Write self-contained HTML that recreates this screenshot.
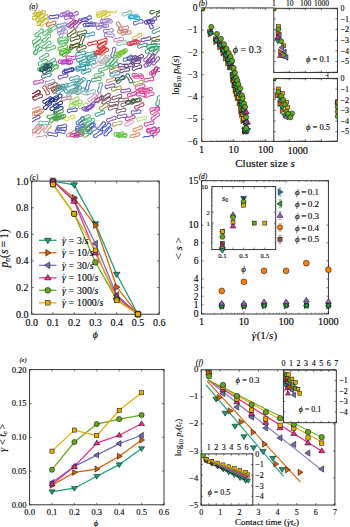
<!DOCTYPE html><html><head><meta charset="utf-8"><style>html,body{margin:0;padding:0;background:#fff;overflow:hidden}svg{display:block}text{font-family:"Liberation Serif",serif;fill:#000;stroke:#000;stroke-width:0.12px}</style></head><body>
<svg width="350" height="527" viewBox="0 0 350 527">
<rect width="350" height="527" fill="#fff"/>
<clipPath id="ca"><rect x="32" y="10" width="128" height="128"/></clipPath>
<g clip-path="url(#ca)">
<path d="M40.53 18.05A1.75 1.75 0 1 0 42.11 20.64Q43.83 18.81 46.25 18.13A1.75 1.75 0 1 0 44.68 15.53Q42.95 17.36 40.53 18.05Z" fill="none" stroke="#c4b82c" stroke-width="1.05"/>
<path d="M33.9 16.29A1.75 1.75 0 1 0 35.64 18.77Q37.24 16.84 39.61 15.99A1.75 1.75 0 1 0 37.87 13.51Q36.26 15.45 33.9 16.29Z" fill="none" stroke="#c4b82c" stroke-width="1.05"/>
<path d="M41.11 22.79A1.75 1.75 0 1 0 42.9 25.24Q44.47 23.27 46.82 22.38A1.75 1.75 0 1 0 45.03 19.93Q43.47 21.9 41.11 22.79Z" fill="none" stroke="#c4b82c" stroke-width="1.05"/>
<path d="M37.38 18.15A1.75 1.75 0 1 0 39.38 20.42Q40.76 18.33 43.02 17.23A1.75 1.75 0 1 0 41.02 14.95Q39.64 17.05 37.38 18.15Z" fill="none" stroke="#c4b82c" stroke-width="1.05"/>
<path d="M35.72 13.4A1.75 1.75 0 1 0 37.53 15.82Q39.08 13.84 41.41 12.91A1.75 1.75 0 1 0 39.6 10.49Q38.06 12.48 35.72 13.4Z" fill="none" stroke="#c4b82c" stroke-width="1.05"/>
<path d="M38.08 22.46A1.75 1.75 0 1 0 40.44 24.36Q41.44 22.06 43.48 20.58A1.75 1.75 0 1 0 41.12 18.68Q40.12 20.99 38.08 22.46Z" fill="none" stroke="#c4b82c" stroke-width="1.05"/>
<path d="M37.89 13.14A1.75 1.75 0 1 0 39.32 15.82Q41.15 14.09 43.6 13.53A1.75 1.75 0 1 0 42.17 10.86Q40.35 12.59 37.89 13.14Z" fill="none" stroke="#c4b82c" stroke-width="1.05"/>
<path d="M51.34 15.63A1.75 1.75 0 1 0 51.71 18.64Q54.04 17.67 56.53 18.04A1.75 1.75 0 1 0 56.15 15.03Q53.83 15.99 51.34 15.63Z" fill="none" stroke="#3a3aa8" stroke-width="1.05"/>
<path d="M70.85 13.85A1.75 1.75 0 1 0 71.95 16.68Q73.97 15.18 76.47 14.92A1.75 1.75 0 1 0 75.37 12.1Q73.36 13.59 70.85 13.85Z" fill="none" stroke="#9a58c8" stroke-width="1.05"/>
<path d="M61.92 13.18A1.75 1.75 0 1 0 62.98 16.02Q65.02 14.55 67.52 14.33A1.75 1.75 0 1 0 66.47 11.49Q64.43 12.96 61.92 13.18Z" fill="none" stroke="#9a58c8" stroke-width="1.05"/>
<path d="M66.77 16.18A1.75 1.75 0 1 0 67.14 19.19Q69.47 18.23 71.96 18.58A1.75 1.75 0 1 0 71.58 15.58Q69.25 16.54 66.77 16.18Z" fill="none" stroke="#9a58c8" stroke-width="1.05"/>
<path d="M65.15 13.06A1.75 1.75 0 1 0 65.26 16.09Q67.66 15.34 70.1 15.92A1.75 1.75 0 1 0 70 12.89Q67.6 13.64 65.15 13.06Z" fill="none" stroke="#9a58c8" stroke-width="1.05"/>
<path d="M48.32 22.98A1.75 1.75 0 1 0 49.21 25.88Q51.33 24.54 53.85 24.47A1.75 1.75 0 1 0 52.96 21.57Q50.84 22.91 48.32 22.98Z" fill="none" stroke="#e0502c" stroke-width="1.05"/>
<path d="M80.68 19.01A1.75 1.75 0 1 0 81.04 22.01Q83.37 21.06 85.86 21.43A1.75 1.75 0 1 0 85.49 18.42Q83.16 19.38 80.68 19.01Z" fill="none" stroke="#5a50c0" stroke-width="1.05"/>
<path d="M88.24 23.44A1.75 1.75 0 1 0 88.46 26.46Q90.83 25.63 93.3 26.11A1.75 1.75 0 1 0 93.08 23.09Q90.71 23.93 88.24 23.44Z" fill="none" stroke="#5a50c0" stroke-width="1.05"/>
<path d="M85.38 23.36A1.75 1.75 0 1 0 86.03 26.32Q88.25 25.15 90.76 25.28A1.75 1.75 0 1 0 90.11 22.32Q87.89 23.49 85.38 23.36Z" fill="none" stroke="#5a50c0" stroke-width="1.05"/>
<path d="M83.79 17.98A1.75 1.75 0 1 0 84.82 20.83Q86.87 19.38 89.38 19.18A1.75 1.75 0 1 0 88.35 16.33Q86.3 17.78 83.79 17.98Z" fill="none" stroke="#5a50c0" stroke-width="1.05"/>
<path d="M70.19 24.67A1.75 1.75 0 1 0 72.1 27.02Q73.56 24.98 75.87 23.97A1.75 1.75 0 1 0 73.96 21.62Q72.49 23.66 70.19 24.67Z" fill="none" stroke="#a03a90" stroke-width="1.05"/>
<path d="M68.31 23.67A1.75 1.75 0 1 0 70.1 26.11Q71.66 24.14 74.01 23.24A1.75 1.75 0 1 0 72.22 20.8Q70.66 22.77 68.31 23.67Z" fill="none" stroke="#a03a90" stroke-width="1.05"/>
<path d="M74.66 24.85A1.75 1.75 0 1 0 76.87 26.93Q78.05 24.71 80.2 23.4A1.75 1.75 0 1 0 77.99 21.32Q76.81 23.54 74.66 24.85Z" fill="none" stroke="#a03a90" stroke-width="1.05"/>
<path d="M58.77 24.32A1.75 1.75 0 1 0 59.49 27.26Q61.69 26.03 64.2 26.1A1.75 1.75 0 1 0 63.48 23.16Q61.28 24.38 58.77 24.32Z" fill="none" stroke="#4a90d0" stroke-width="1.05"/>
<path d="M44.07 31.99A1.75 1.75 0 1 0 45.98 34.34Q47.45 32.3 49.75 31.29A1.75 1.75 0 1 0 47.84 28.93Q46.38 30.98 44.07 31.99Z" fill="none" stroke="#52b86e" stroke-width="1.05"/>
<path d="M40.07 61.94A1.75 1.75 0 1 0 41.32 64.71Q43.26 63.1 45.74 62.71A1.75 1.75 0 1 0 44.49 59.94Q42.56 61.55 40.07 61.94Z" fill="none" stroke="#52b86e" stroke-width="1.05"/>
<path d="M34.88 51.03A1.75 1.75 0 1 0 36.7 53.46Q38.24 51.48 40.58 50.56A1.75 1.75 0 1 0 38.77 48.13Q37.22 50.11 34.88 51.03Z" fill="none" stroke="#52b86e" stroke-width="1.05"/>
<path d="M47.98 47.65A1.75 1.75 0 1 0 48.97 50.51Q51.04 49.09 53.55 48.93A1.75 1.75 0 1 0 52.56 46.06Q50.49 47.48 47.98 47.65Z" fill="none" stroke="#52b86e" stroke-width="1.05"/>
<path d="M49.44 63.88A1.75 1.75 0 1 0 50.69 66.64Q52.62 65.03 55.11 64.63A1.75 1.75 0 1 0 53.85 61.87Q51.92 63.48 49.44 63.88Z" fill="none" stroke="#52b86e" stroke-width="1.05"/>
<path d="M33.54 40.3A1.75 1.75 0 1 0 35.41 42.69Q36.91 40.67 39.23 39.7A1.75 1.75 0 1 0 37.36 37.31Q35.86 39.33 33.54 40.3Z" fill="none" stroke="#52b86e" stroke-width="1.05"/>
<path d="M43.83 45.02A1.75 1.75 0 1 0 45.65 47.45Q47.19 45.46 49.53 44.54A1.75 1.75 0 1 0 47.71 42.12Q46.17 44.1 43.83 45.02Z" fill="none" stroke="#52b86e" stroke-width="1.05"/>
<path d="M43.84 38.83A1.75 1.75 0 1 0 45.98 40.97Q47.23 38.79 49.41 37.54A1.75 1.75 0 1 0 47.27 35.4Q46.03 37.58 43.84 38.83Z" fill="none" stroke="#52b86e" stroke-width="1.05"/>
<path d="M41.24 56.44A1.75 1.75 0 1 0 42.69 59.1Q44.5 57.36 46.94 56.78A1.75 1.75 0 1 0 45.5 54.12Q43.68 55.86 41.24 56.44Z" fill="none" stroke="#52b86e" stroke-width="1.05"/>
<path d="M34.96 43.8A1.75 1.75 0 1 0 36.83 46.18Q38.33 44.16 40.65 43.19A1.75 1.75 0 1 0 38.77 40.8Q37.28 42.83 34.96 43.8Z" fill="none" stroke="#52b86e" stroke-width="1.05"/>
<path d="M36.3 33.02A1.75 1.75 0 1 0 38.2 35.38Q39.67 33.34 41.98 32.33A1.75 1.75 0 1 0 40.07 29.97Q38.6 32.01 36.3 33.02Z" fill="none" stroke="#52b86e" stroke-width="1.05"/>
<path d="M50.91 68.4A1.75 1.75 0 1 0 52.43 71.02Q54.19 69.24 56.63 68.6A1.75 1.75 0 1 0 55.11 65.97Q53.35 67.76 50.91 68.4Z" fill="none" stroke="#52b86e" stroke-width="1.05"/>
<path d="M39.24 67.65A1.75 1.75 0 1 0 40.9 70.19Q42.57 68.31 44.96 67.55A1.75 1.75 0 1 0 43.31 65.01Q41.64 66.89 39.24 67.65Z" fill="none" stroke="#52b86e" stroke-width="1.05"/>
<path d="M48.25 61.83A1.75 1.75 0 1 0 49.98 64.32Q51.59 62.38 53.96 61.54A1.75 1.75 0 1 0 52.23 59.06Q50.62 60.99 48.25 61.83Z" fill="none" stroke="#52b86e" stroke-width="1.05"/>
<path d="M34.3 51.72A1.75 1.75 0 1 0 37.15 52.76Q37.35 50.25 38.81 48.2A1.75 1.75 0 1 0 35.96 47.17Q35.76 49.67 34.3 51.72Z" fill="none" stroke="#52b86e" stroke-width="1.05"/>
<path d="M51.14 67.74A1.75 1.75 0 1 0 52.61 70.39Q54.41 68.64 56.85 68.05A1.75 1.75 0 1 0 55.39 65.4Q53.59 67.15 51.14 67.74Z" fill="none" stroke="#52b86e" stroke-width="1.05"/>
<path d="M49.72 29.26A1.75 1.75 0 1 0 51.45 31.75Q53.06 29.82 55.43 28.98A1.75 1.75 0 1 0 53.7 26.49Q52.09 28.42 49.72 29.26Z" fill="none" stroke="#52b86e" stroke-width="1.05"/>
<path d="M45.2 66.42A1.75 1.75 0 1 0 46.17 69.29Q48.25 67.88 50.76 67.72A1.75 1.75 0 1 0 49.79 64.86Q47.71 66.27 45.2 66.42Z" fill="none" stroke="#52b86e" stroke-width="1.05"/>
<path d="M59.89 31.34A1.75 1.75 0 1 0 60.6 34.29Q62.8 33.07 65.31 33.15A1.75 1.75 0 1 0 64.61 30.21Q62.4 31.42 59.89 31.34Z" fill="none" stroke="#a592d2" stroke-width="1.05"/>
<path d="M60 34.21A1.75 1.75 0 1 0 62.84 35.24Q63.05 32.74 64.5 30.69A1.75 1.75 0 1 0 61.66 29.65Q61.45 32.16 60 34.21Z" fill="none" stroke="#a592d2" stroke-width="1.05"/>
<path d="M58.93 28.58A1.75 1.75 0 1 0 60.55 31.14Q62.25 29.28 64.65 28.55A1.75 1.75 0 1 0 63.03 25.99Q61.34 27.85 58.93 28.58Z" fill="none" stroke="#a592d2" stroke-width="1.05"/>
<path d="M71.32 45.92A1.75 1.75 0 1 0 72.67 48.63Q74.54 46.96 77.01 46.47A1.75 1.75 0 1 0 75.66 43.76Q73.79 45.44 71.32 45.92Z" fill="none" stroke="#4e5e22" stroke-width="1.05"/>
<path d="M79.69 41.96A1.75 1.75 0 1 0 82.54 42.99Q82.75 40.49 84.2 38.44A1.75 1.75 0 1 0 81.35 37.4Q81.15 39.91 79.69 41.96Z" fill="none" stroke="#4e5e22" stroke-width="1.05"/>
<path d="M68.85 33.46A1.75 1.75 0 1 0 70.66 35.89Q72.21 33.92 74.56 33.01A1.75 1.75 0 1 0 72.75 30.57Q71.2 32.55 68.85 33.46Z" fill="none" stroke="#4e5e22" stroke-width="1.05"/>
<path d="M72.21 37.73A1.75 1.75 0 1 0 73.14 40.62Q75.25 39.24 77.76 39.13A1.75 1.75 0 1 0 76.83 36.25Q74.73 37.62 72.21 37.73Z" fill="none" stroke="#4e5e22" stroke-width="1.05"/>
<path d="M79.08 31.9A1.75 1.75 0 1 0 79.89 34.82Q82.05 33.54 84.56 33.53A1.75 1.75 0 1 0 83.76 30.61Q81.6 31.9 79.08 31.9Z" fill="none" stroke="#4e5e22" stroke-width="1.05"/>
<path d="M78.59 47.76A1.75 1.75 0 1 0 79.75 50.56Q81.73 49.02 84.23 48.7A1.75 1.75 0 1 0 83.06 45.9Q81.08 47.45 78.59 47.76Z" fill="none" stroke="#4e5e22" stroke-width="1.05"/>
<path d="M72.21 44.51A1.75 1.75 0 1 0 72.64 47.51Q74.95 46.51 77.44 46.83A1.75 1.75 0 1 0 77.02 43.83Q74.71 44.83 72.21 44.51Z" fill="none" stroke="#4e5e22" stroke-width="1.05"/>
<path d="M60.45 40.15A1.75 1.75 0 1 0 60.29 43.17Q62.74 42.64 65.13 43.44A1.75 1.75 0 1 0 65.29 40.41Q62.84 40.94 60.45 40.15Z" fill="none" stroke="#60c070" stroke-width="1.05"/>
<path d="M60.28 38A1.75 1.75 0 1 0 60.58 41.01Q62.93 40.11 65.41 40.53A1.75 1.75 0 1 0 65.11 37.52Q62.76 38.42 60.28 38Z" fill="none" stroke="#60c070" stroke-width="1.05"/>
<path d="M60.91 41.56A1.75 1.75 0 1 0 62.15 44.33Q64.09 42.73 66.58 42.35A1.75 1.75 0 1 0 65.34 39.59Q63.4 41.18 60.91 41.56Z" fill="none" stroke="#60c070" stroke-width="1.05"/>
<path d="M87.19 33.56A1.75 1.75 0 1 0 87.88 36.51Q90.09 35.3 92.6 35.39A1.75 1.75 0 1 0 91.91 32.44Q89.7 33.65 87.19 33.56Z" fill="none" stroke="#4a98d6" stroke-width="1.05"/>
<path d="M89.83 42.36A1.75 1.75 0 1 0 90.55 45.31Q92.75 44.09 95.26 44.16A1.75 1.75 0 1 0 94.55 41.22Q92.35 42.44 89.83 42.36Z" fill="none" stroke="#e03030" stroke-width="1.05"/>
<path d="M61.79 50.97A1.75 1.75 0 1 0 62.53 53.91Q64.72 52.68 67.24 52.73A1.75 1.75 0 1 0 66.5 49.79Q64.31 51.03 61.79 50.97Z" fill="none" stroke="#4cb828" stroke-width="1.05"/>
<path d="M59.98 47.07A1.75 1.75 0 1 0 60.99 49.93Q63.06 48.49 65.56 48.3A1.75 1.75 0 1 0 64.55 45.45Q62.49 46.89 59.98 47.07Z" fill="none" stroke="#4cb828" stroke-width="1.05"/>
<path d="M63.6 52.97A1.75 1.75 0 1 0 65.26 55.5Q66.92 53.61 69.31 52.84A1.75 1.75 0 1 0 67.65 50.31Q65.99 52.19 63.6 52.97Z" fill="none" stroke="#4cb828" stroke-width="1.05"/>
<path d="M61.39 51.92A1.75 1.75 0 1 0 62.83 54.59Q64.65 52.85 67.1 52.29A1.75 1.75 0 1 0 65.66 49.62Q63.84 51.36 61.39 51.92Z" fill="none" stroke="#4cb828" stroke-width="1.05"/>
<path d="M65.12 60.29A1.75 1.75 0 1 0 64.95 63.32Q67.41 62.79 69.79 63.59A1.75 1.75 0 1 0 69.96 60.56Q67.5 61.09 65.12 60.29Z" fill="none" stroke="#c033c0" stroke-width="1.05"/>
<path d="M68.49 56.09A1.75 1.75 0 1 0 68.42 59.12Q70.86 58.51 73.27 59.23A1.75 1.75 0 1 0 73.34 56.2Q70.9 56.81 68.49 56.09Z" fill="none" stroke="#c033c0" stroke-width="1.05"/>
<path d="M60.92 60.11A1.75 1.75 0 1 0 61.06 63.13Q63.45 62.35 65.91 62.9A1.75 1.75 0 1 0 65.76 59.87Q63.37 60.66 60.92 60.11Z" fill="none" stroke="#c033c0" stroke-width="1.05"/>
<path d="M63.46 61.06A1.75 1.75 0 1 0 63.34 64.09Q65.79 63.52 68.19 64.28A1.75 1.75 0 1 0 68.31 61.25Q65.86 61.82 63.46 61.06Z" fill="none" stroke="#c033c0" stroke-width="1.05"/>
<path d="M82.02 61.79A1.75 1.75 0 1 0 81.64 64.8Q84.13 64.44 86.45 65.41A1.75 1.75 0 1 0 86.83 62.4Q84.34 62.76 82.02 61.79Z" fill="none" stroke="#3a9ea0" stroke-width="1.05"/>
<path d="M88 52.8A1.75 1.75 0 1 0 88.56 55.78Q90.82 54.67 93.33 54.87A1.75 1.75 0 1 0 92.76 51.9Q90.51 53 88 52.8Z" fill="none" stroke="#3a9ea0" stroke-width="1.05"/>
<path d="M78.14 66.35A1.75 1.75 0 1 0 78.13 69.39Q80.56 68.73 82.98 69.4A1.75 1.75 0 1 0 82.99 66.37Q80.56 67.03 78.14 66.35Z" fill="none" stroke="#3a9ea0" stroke-width="1.05"/>
<path d="M77.97 52.64A1.75 1.75 0 1 0 78.7 55.58Q80.89 54.35 83.41 54.41A1.75 1.75 0 1 0 82.67 51.47Q80.48 52.7 77.97 52.64Z" fill="none" stroke="#3a9ea0" stroke-width="1.05"/>
<path d="M83.34 70.61A1.75 1.75 0 1 0 84.34 73.47Q86.41 72.04 88.92 71.87A1.75 1.75 0 1 0 87.92 69.01Q85.85 70.44 83.34 70.61Z" fill="none" stroke="#3a9ea0" stroke-width="1.05"/>
<path d="M78.57 58.34A1.75 1.75 0 1 0 79.56 61.2Q81.64 59.78 84.14 59.62A1.75 1.75 0 1 0 83.16 56.76Q81.08 58.18 78.57 58.34Z" fill="none" stroke="#3a9ea0" stroke-width="1.05"/>
<path d="M89.18 56.94A1.75 1.75 0 1 0 89.83 59.89Q92.05 58.72 94.57 58.85A1.75 1.75 0 1 0 93.91 55.89Q91.69 57.06 89.18 56.94Z" fill="none" stroke="#3a9ea0" stroke-width="1.05"/>
<path d="M88.69 55.69A1.75 1.75 0 1 0 89.86 58.48Q91.84 56.93 94.33 56.61A1.75 1.75 0 1 0 93.16 53.81Q91.18 55.36 88.69 55.69Z" fill="none" stroke="#3a9ea0" stroke-width="1.05"/>
<path d="M88.17 62.52A1.75 1.75 0 1 0 89.25 65.35Q91.28 63.87 93.78 63.63A1.75 1.75 0 1 0 92.71 60.79Q90.68 62.28 88.17 62.52Z" fill="none" stroke="#3a9ea0" stroke-width="1.05"/>
<path d="M78.05 67.88A1.75 1.75 0 1 0 78.87 70.8Q81.03 69.5 83.54 69.48A1.75 1.75 0 1 0 82.71 66.56Q80.56 67.86 78.05 67.88Z" fill="none" stroke="#3a9ea0" stroke-width="1.05"/>
<path d="M81.97 63.32A1.75 1.75 0 1 0 83.21 66.09Q85.15 64.49 87.64 64.11A1.75 1.75 0 1 0 86.4 61.34Q84.46 62.94 81.97 63.32Z" fill="none" stroke="#3a9ea0" stroke-width="1.05"/>
<path d="M41.94 67.99A1.75 1.75 0 1 0 43.76 70.41Q45.3 68.42 47.63 67.49A1.75 1.75 0 1 0 45.81 65.07Q44.27 67.06 41.94 67.99Z" fill="none" stroke="#234f5e" stroke-width="1.05"/>
<path d="M40.73 67.68A1.75 1.75 0 1 0 42.55 70.1Q44.09 68.11 46.42 67.19A1.75 1.75 0 1 0 44.6 64.77Q43.06 66.76 40.73 67.68Z" fill="none" stroke="#234f5e" stroke-width="1.05"/>
<path d="M45.33 67.45A1.75 1.75 0 1 0 47.47 69.59Q48.72 67.41 50.9 66.16A1.75 1.75 0 1 0 48.76 64.02Q47.51 66.21 45.33 67.45Z" fill="none" stroke="#234f5e" stroke-width="1.05"/>
<path d="M44.3 70.42A1.75 1.75 0 1 0 45.82 73.04Q47.58 71.25 50.02 70.62A1.75 1.75 0 1 0 48.5 67.99Q46.73 69.78 44.3 70.42Z" fill="none" stroke="#234f5e" stroke-width="1.05"/>
<path d="M64.38 70.52A1.75 1.75 0 1 0 65.43 73.37Q67.48 71.9 69.98 71.69A1.75 1.75 0 1 0 68.94 68.85Q66.89 70.31 64.38 70.52Z" fill="none" stroke="#4444a8" stroke-width="1.05"/>
<path d="M66.1 69.13A1.75 1.75 0 1 0 66.59 72.12Q68.88 71.07 71.38 71.34A1.75 1.75 0 1 0 70.89 68.35Q68.61 69.4 66.1 69.13Z" fill="none" stroke="#4444a8" stroke-width="1.05"/>
<path d="M66.63 69.97A1.75 1.75 0 1 0 67.75 72.78Q69.76 71.27 72.26 70.99A1.75 1.75 0 1 0 71.14 68.17Q69.13 69.69 66.63 69.97Z" fill="none" stroke="#4444a8" stroke-width="1.05"/>
<path d="M93.33 64.79A1.75 1.75 0 1 0 94.73 67.48Q96.58 65.77 99.03 65.24A1.75 1.75 0 1 0 97.63 62.55Q95.79 64.26 93.33 64.79Z" fill="none" stroke="#b0b0b0" stroke-width="1.05"/>
<path d="M103.03 15.7A1.75 1.75 0 1 0 104.61 18.28Q106.33 16.44 108.74 15.74A1.75 1.75 0 1 0 107.16 13.16Q105.44 15 103.03 15.7Z" fill="none" stroke="#d0c030" stroke-width="1.05"/>
<path d="M98.67 11.91A1.75 1.75 0 1 0 99.68 14.77Q101.74 13.33 104.25 13.15A1.75 1.75 0 1 0 103.24 10.29Q101.17 11.73 98.67 11.91Z" fill="none" stroke="#d0c030" stroke-width="1.05"/>
<path d="M98.63 13.95A1.75 1.75 0 1 0 99.81 16.74Q101.78 15.19 104.28 14.86A1.75 1.75 0 1 0 103.1 12.06Q101.12 13.62 98.63 13.95Z" fill="none" stroke="#d0c030" stroke-width="1.05"/>
<path d="M109.36 8.7A1.75 1.75 0 1 0 108.97 11.7Q111.46 11.36 113.78 12.33A1.75 1.75 0 1 0 114.17 9.33Q111.68 9.67 109.36 8.7Z" fill="none" stroke="#d8c838" stroke-width="1.05"/>
<path d="M124.15 12.73A1.75 1.75 0 1 0 125.09 15.61Q127.19 14.22 129.71 14.1A1.75 1.75 0 1 0 128.77 11.22Q126.67 12.61 124.15 12.73Z" fill="none" stroke="#80c0a0" stroke-width="1.05"/>
<path d="M132.16 15.77A1.75 1.75 0 1 0 131.75 18.77Q134.25 18.44 136.56 19.42A1.75 1.75 0 1 0 136.97 16.42Q134.48 16.75 132.16 15.77Z" fill="none" stroke="#30acd0" stroke-width="1.05"/>
<path d="M130.52 15.57A1.75 1.75 0 1 0 131.01 18.56Q133.29 17.51 135.79 17.78A1.75 1.75 0 1 0 135.3 14.79Q133.02 15.84 130.52 15.57Z" fill="none" stroke="#30acd0" stroke-width="1.05"/>
<path d="M132.65 15.14A1.75 1.75 0 1 0 132.08 18.12Q134.59 17.92 136.85 19.03A1.75 1.75 0 1 0 137.42 16.06Q134.91 16.25 132.65 15.14Z" fill="none" stroke="#30acd0" stroke-width="1.05"/>
<path d="M135.47 21.53A1.75 1.75 0 1 0 136.34 24.43Q138.48 23.1 140.99 23.04A1.75 1.75 0 1 0 140.12 20.13Q137.99 21.47 135.47 21.53Z" fill="none" stroke="#6060c0" stroke-width="1.05"/>
<path d="M150.02 21.36A1.75 1.75 0 1 0 147.4 22.87Q149.19 24.64 149.82 27.07A1.75 1.75 0 1 0 152.45 25.56Q150.66 23.79 150.02 21.36Z" fill="none" stroke="#5040b0" stroke-width="1.05"/>
<path d="M149.34 19.78A1.75 1.75 0 1 0 150.71 22.48Q152.57 20.79 155.03 20.28A1.75 1.75 0 1 0 153.66 17.58Q151.8 19.27 149.34 19.78Z" fill="none" stroke="#5040b0" stroke-width="1.05"/>
<path d="M146.8 20.76A1.75 1.75 0 1 0 147.11 23.77Q149.45 22.87 151.93 23.28A1.75 1.75 0 1 0 151.63 20.27Q149.28 21.17 146.8 20.76Z" fill="none" stroke="#5040b0" stroke-width="1.05"/>
<path d="M151.86 10.54A1.75 1.75 0 1 0 153 13.35Q155 11.82 157.5 11.52A1.75 1.75 0 1 0 156.36 8.71Q154.36 10.24 151.86 10.54Z" fill="none" stroke="#306030" stroke-width="1.05"/>
<path d="M105.74 29.4A1.75 1.75 0 1 0 106.04 32.42Q108.39 31.52 110.86 31.94A1.75 1.75 0 1 0 110.57 28.93Q108.22 29.83 105.74 29.4Z" fill="none" stroke="#9a78c4" stroke-width="1.05"/>
<path d="M101.32 23.56A1.75 1.75 0 1 0 100.98 26.58Q103.46 26.19 105.8 27.12A1.75 1.75 0 1 0 106.14 24.11Q103.65 24.5 101.32 23.56Z" fill="none" stroke="#9a78c4" stroke-width="1.05"/>
<path d="M106.9 33.71A1.75 1.75 0 1 0 106.71 36.73Q109.17 36.22 111.55 37.04A1.75 1.75 0 1 0 111.74 34.01Q109.28 34.53 106.9 33.71Z" fill="none" stroke="#9a78c4" stroke-width="1.05"/>
<path d="M104.75 19.86A1.75 1.75 0 1 0 104.74 22.89Q107.17 22.24 109.59 22.91A1.75 1.75 0 1 0 109.6 19.88Q107.17 20.54 104.75 19.86Z" fill="none" stroke="#9a78c4" stroke-width="1.05"/>
<path d="M96.65 22.93A1.75 1.75 0 1 0 96.6 25.96Q99.04 25.34 101.45 26.04A1.75 1.75 0 1 0 101.5 23.01Q99.07 23.64 96.65 22.93Z" fill="none" stroke="#9a78c4" stroke-width="1.05"/>
<path d="M98.49 26.1A1.75 1.75 0 1 0 99.3 29.02Q101.46 27.73 103.97 27.73A1.75 1.75 0 1 0 103.17 24.81Q101 26.09 98.49 26.1Z" fill="none" stroke="#9a78c4" stroke-width="1.05"/>
<path d="M102.53 19.34A1.75 1.75 0 1 0 102.89 22.35Q105.22 21.4 107.7 21.78A1.75 1.75 0 1 0 107.35 18.77Q105.02 19.72 102.53 19.34Z" fill="none" stroke="#9a78c4" stroke-width="1.05"/>
<path d="M121.03 26.93A1.75 1.75 0 1 0 121.45 29.93Q123.76 28.94 126.25 29.26A1.75 1.75 0 1 0 125.83 26.26Q123.52 27.25 121.03 26.93Z" fill="none" stroke="#c88070" stroke-width="1.05"/>
<path d="M123.46 31.82A1.75 1.75 0 1 0 123.99 34.81Q126.26 33.73 128.76 33.97A1.75 1.75 0 1 0 128.24 30.98Q125.97 32.06 123.46 31.82Z" fill="none" stroke="#c88070" stroke-width="1.05"/>
<path d="M120.2 30.03A1.75 1.75 0 1 0 120.31 33.06Q122.71 32.3 125.16 32.87A1.75 1.75 0 1 0 125.04 29.84Q122.64 30.6 120.2 30.03Z" fill="none" stroke="#c88070" stroke-width="1.05"/>
<path d="M119.83 23.71A1.75 1.75 0 1 0 117.2 25.23Q118.99 26.99 119.63 29.43A1.75 1.75 0 1 0 122.25 27.91Q120.47 26.14 119.83 23.71Z" fill="none" stroke="#c88070" stroke-width="1.05"/>
<path d="M134.32 36.6A1.75 1.75 0 1 0 135.8 39.24Q137.59 37.48 140.04 36.89A1.75 1.75 0 1 0 138.56 34.24Q136.77 36 134.32 36.6Z" fill="none" stroke="#d0b840" stroke-width="1.05"/>
<path d="M143.13 38.36A1.75 1.75 0 1 0 143.83 41.31Q146.03 40.11 148.55 40.19A1.75 1.75 0 1 0 147.85 37.24Q145.64 38.45 143.13 38.36Z" fill="none" stroke="#5050c0" stroke-width="1.05"/>
<path d="M154.05 30.08A1.75 1.75 0 1 0 155.27 32.85Q157.23 31.27 159.71 30.9A1.75 1.75 0 1 0 158.5 28.13Q156.54 29.71 154.05 30.08Z" fill="none" stroke="#40a080" stroke-width="1.05"/>
<path d="M153.91 37.64A1.75 1.75 0 1 0 154.73 40.56Q156.88 39.26 159.4 39.24A1.75 1.75 0 1 0 158.57 36.32Q156.42 37.62 153.91 37.64Z" fill="none" stroke="#606020" stroke-width="1.05"/>
<path d="M98.72 45.26A1.75 1.75 0 1 0 100.47 47.74Q102.07 45.79 104.43 44.93A1.75 1.75 0 1 0 102.68 42.46Q101.08 44.4 98.72 45.26Z" fill="none" stroke="#e03838" stroke-width="1.05"/>
<path d="M101.23 51.87A1.75 1.75 0 1 0 102.98 54.34Q104.57 52.39 106.94 51.53A1.75 1.75 0 1 0 105.18 49.06Q103.59 51.01 101.23 51.87Z" fill="none" stroke="#e03838" stroke-width="1.05"/>
<path d="M96.34 51.58A1.75 1.75 0 1 0 97.63 54.33Q99.54 52.69 102.02 52.27A1.75 1.75 0 1 0 100.73 49.52Q98.82 51.16 96.34 51.58Z" fill="none" stroke="#e03838" stroke-width="1.05"/>
<path d="M97.79 50.4A1.75 1.75 0 1 0 99.18 53.1Q101.03 51.39 103.49 50.88A1.75 1.75 0 1 0 102.1 48.18Q100.25 49.88 97.79 50.4Z" fill="none" stroke="#e03838" stroke-width="1.05"/>
<path d="M99.44 44.31A1.75 1.75 0 1 0 100.94 46.94Q102.72 45.15 105.15 44.53A1.75 1.75 0 1 0 103.64 41.9Q101.87 43.68 99.44 44.31Z" fill="none" stroke="#e03838" stroke-width="1.05"/>
<path d="M99.47 40.18A1.75 1.75 0 1 0 100.42 43.06Q102.52 41.67 105.03 41.54A1.75 1.75 0 1 0 104.08 38.66Q101.99 40.05 99.47 40.18Z" fill="none" stroke="#e03838" stroke-width="1.05"/>
<path d="M99.45 51.34A1.75 1.75 0 1 0 101.59 53.48Q102.83 51.3 105.02 50.05A1.75 1.75 0 1 0 102.88 47.91Q101.63 50.1 99.45 51.34Z" fill="none" stroke="#e03838" stroke-width="1.05"/>
<path d="M115.95 38.41A1.75 1.75 0 1 0 116.46 41.4Q118.74 40.34 121.24 40.59A1.75 1.75 0 1 0 120.73 37.6Q118.45 38.66 115.95 38.41Z" fill="none" stroke="#d080c0" stroke-width="1.05"/>
<path d="M118.94 42.34A1.75 1.75 0 1 0 119.69 45.28Q121.88 44.03 124.39 44.08A1.75 1.75 0 1 0 123.64 41.15Q121.46 42.39 118.94 42.34Z" fill="none" stroke="#80c8a8" stroke-width="1.05"/>
<path d="M132.58 41.64A1.75 1.75 0 1 0 133 44.64Q135.31 43.65 137.81 43.97A1.75 1.75 0 1 0 137.38 40.97Q135.08 41.97 132.58 41.64Z" fill="none" stroke="#d04060" stroke-width="1.05"/>
<path d="M131.06 42.1A1.75 1.75 0 1 0 132.03 44.97Q134.12 43.56 136.63 43.41A1.75 1.75 0 1 0 135.66 40.54Q133.57 41.95 131.06 42.1Z" fill="none" stroke="#d04060" stroke-width="1.05"/>
<path d="M129.3 41.92A1.75 1.75 0 1 0 130.32 44.78Q132.38 43.33 134.89 43.14A1.75 1.75 0 1 0 133.87 40.28Q131.81 41.73 129.3 41.92Z" fill="none" stroke="#d04060" stroke-width="1.05"/>
<path d="M147.05 49.78A1.75 1.75 0 1 0 148.53 52.43Q150.32 50.67 152.76 50.07A1.75 1.75 0 1 0 151.29 47.42Q149.49 49.19 147.05 49.78Z" fill="none" stroke="#3a9a70" stroke-width="1.05"/>
<path d="M139.71 44.82A1.75 1.75 0 1 0 140.51 47.75Q142.67 46.47 145.19 46.48A1.75 1.75 0 1 0 144.39 43.55Q142.23 44.83 139.71 44.82Z" fill="none" stroke="#3a9a70" stroke-width="1.05"/>
<path d="M154.17 51.19A1.75 1.75 0 1 0 156.31 53.34Q157.56 51.15 159.74 49.91A1.75 1.75 0 1 0 157.6 47.77Q156.35 49.95 154.17 51.19Z" fill="none" stroke="#3a9a70" stroke-width="1.05"/>
<path d="M153.53 41.44A1.75 1.75 0 1 0 153.83 44.46Q156.18 43.56 158.65 43.99A1.75 1.75 0 1 0 158.36 40.97Q156.01 41.87 153.53 41.44Z" fill="none" stroke="#3a9a70" stroke-width="1.05"/>
<path d="M148.62 44.87A1.75 1.75 0 1 0 149.37 47.8Q151.55 46.56 154.07 46.61A1.75 1.75 0 1 0 153.32 43.67Q151.14 44.91 148.62 44.87Z" fill="none" stroke="#3a9a70" stroke-width="1.05"/>
<path d="M151.38 47.97A1.75 1.75 0 1 0 152.16 50.9Q154.33 49.63 156.85 49.66A1.75 1.75 0 1 0 156.07 46.73Q153.9 47.99 151.38 47.97Z" fill="none" stroke="#3a9a70" stroke-width="1.05"/>
<path d="M102.31 60.24A1.75 1.75 0 1 0 104.45 62.4Q105.7 60.22 107.89 58.98A1.75 1.75 0 1 0 105.76 56.83Q104.51 59.01 102.31 60.24Z" fill="none" stroke="#bcbcbc" stroke-width="1.05"/>
<path d="M101.2 60.32A1.75 1.75 0 1 0 102.52 63.05Q104.41 61.39 106.88 60.93A1.75 1.75 0 1 0 105.56 58.21Q103.67 59.86 101.2 60.32Z" fill="none" stroke="#bcbcbc" stroke-width="1.05"/>
<path d="M98.76 59.46A1.75 1.75 0 1 0 101.25 61.19Q102.09 58.82 104.02 57.21A1.75 1.75 0 1 0 101.53 55.48Q100.69 57.85 98.76 59.46Z" fill="none" stroke="#bcbcbc" stroke-width="1.05"/>
<path d="M101.92 61.97A1.75 1.75 0 1 0 103.49 64.56Q105.22 62.74 107.64 62.05A1.75 1.75 0 1 0 106.07 59.46Q104.34 61.28 101.92 61.97Z" fill="none" stroke="#bcbcbc" stroke-width="1.05"/>
<path d="M111.26 54.27A1.75 1.75 0 1 0 114.19 55.06Q114.17 52.54 115.44 50.37A1.75 1.75 0 1 0 112.52 49.59Q112.53 52.1 111.26 54.27Z" fill="none" stroke="#6a60d0" stroke-width="1.05"/>
<path d="M119.9 51.72A1.75 1.75 0 1 0 121.3 54.41Q123.14 52.7 125.6 52.18A1.75 1.75 0 1 0 124.21 49.49Q122.36 51.19 119.9 51.72Z" fill="none" stroke="#78c030" stroke-width="1.05"/>
<path d="M115.95 52.39A1.75 1.75 0 1 0 116.81 55.3Q118.95 53.98 121.46 53.93A1.75 1.75 0 1 0 120.6 51.02Q118.47 52.35 115.95 52.39Z" fill="none" stroke="#78c030" stroke-width="1.05"/>
<path d="M117.6 53.42A1.75 1.75 0 1 0 119.16 56.02Q120.9 54.2 123.32 53.51A1.75 1.75 0 1 0 121.75 50.92Q120.02 52.74 117.6 53.42Z" fill="none" stroke="#78c030" stroke-width="1.05"/>
<path d="M118.94 54.07A1.75 1.75 0 1 0 120.74 56.51Q122.29 54.53 124.64 53.63A1.75 1.75 0 1 0 122.84 51.19Q121.29 53.17 118.94 54.07Z" fill="none" stroke="#78c030" stroke-width="1.05"/>
<path d="M125.14 57.91A1.75 1.75 0 1 0 126.44 60.65Q128.35 59 130.82 58.56A1.75 1.75 0 1 0 129.52 55.83Q127.61 57.47 125.14 57.91Z" fill="none" stroke="#4070c0" stroke-width="1.05"/>
<path d="M126.8 64.31A1.75 1.75 0 1 0 127.43 67.27Q129.66 66.12 132.17 66.27A1.75 1.75 0 1 0 131.55 63.3Q129.31 64.46 126.8 64.31Z" fill="none" stroke="#5e3e7e" stroke-width="1.05"/>
<path d="M133.46 59.09A1.75 1.75 0 1 0 134.26 62.02Q136.42 60.73 138.94 60.74A1.75 1.75 0 1 0 138.14 57.81Q135.98 59.09 133.46 59.09Z" fill="none" stroke="#5e3e7e" stroke-width="1.05"/>
<path d="M134.21 67.05A1.75 1.75 0 1 0 135.22 69.91Q137.29 68.48 139.79 68.3A1.75 1.75 0 1 0 138.79 65.44Q136.72 66.88 134.21 67.05Z" fill="none" stroke="#5e3e7e" stroke-width="1.05"/>
<path d="M122.07 69.24A1.75 1.75 0 1 0 122.76 72.19Q124.97 70.99 127.48 71.09A1.75 1.75 0 1 0 126.79 68.13Q124.58 69.34 122.07 69.24Z" fill="none" stroke="#5e3e7e" stroke-width="1.05"/>
<path d="M120.98 63.86A1.75 1.75 0 1 0 120.75 66.88Q123.22 66.4 125.59 67.25A1.75 1.75 0 1 0 125.82 64.22Q123.35 64.71 120.98 63.86Z" fill="none" stroke="#5e3e7e" stroke-width="1.05"/>
<path d="M135.83 56.88A1.75 1.75 0 1 0 136.89 59.72Q138.93 58.25 141.43 58.02A1.75 1.75 0 1 0 140.37 55.18Q138.33 56.66 135.83 56.88Z" fill="none" stroke="#5e3e7e" stroke-width="1.05"/>
<path d="M129.36 57.06A1.75 1.75 0 1 0 130.04 60.02Q132.26 58.82 134.77 58.92A1.75 1.75 0 1 0 134.09 55.97Q131.88 57.16 129.36 57.06Z" fill="none" stroke="#5e3e7e" stroke-width="1.05"/>
<path d="M133.12 60.96A1.75 1.75 0 1 0 133.57 63.96Q135.87 62.95 138.37 63.25A1.75 1.75 0 1 0 137.92 60.25Q135.62 61.27 133.12 60.96Z" fill="none" stroke="#5e3e7e" stroke-width="1.05"/>
<path d="M153.03 61.6A1.75 1.75 0 1 0 155.23 63.69Q156.42 61.48 158.58 60.19A1.75 1.75 0 1 0 156.38 58.09Q155.19 60.31 153.03 61.6Z" fill="none" stroke="#8050a8" stroke-width="1.05"/>
<path d="M144.85 58.59A1.75 1.75 0 1 0 147.13 60.58Q148.22 58.31 150.31 56.91A1.75 1.75 0 1 0 148.03 54.93Q146.94 57.19 144.85 58.59Z" fill="none" stroke="#8050a8" stroke-width="1.05"/>
<path d="M145.22 63.81A1.75 1.75 0 1 0 147.41 65.9Q148.61 63.69 150.76 62.39A1.75 1.75 0 1 0 148.57 60.3Q147.38 62.51 145.22 63.81Z" fill="none" stroke="#8050a8" stroke-width="1.05"/>
<path d="M148.46 58.93A1.75 1.75 0 1 0 150.84 60.81Q151.82 58.49 153.85 57A1.75 1.75 0 1 0 151.47 55.12Q150.49 57.44 148.46 58.93Z" fill="none" stroke="#8050a8" stroke-width="1.05"/>
<path d="M147.47 59.71A1.75 1.75 0 1 0 149.61 61.85Q150.86 59.67 153.04 58.42A1.75 1.75 0 1 0 150.9 56.28Q149.65 58.46 147.47 59.71Z" fill="none" stroke="#8050a8" stroke-width="1.05"/>
<path d="M148.23 62.85A1.75 1.75 0 1 0 150.28 65.09Q151.62 62.96 153.86 61.82A1.75 1.75 0 1 0 151.81 59.58Q150.47 61.71 148.23 62.85Z" fill="none" stroke="#8050a8" stroke-width="1.05"/>
<path d="M110.96 62.98A1.75 1.75 0 1 0 113.33 64.86Q114.33 62.55 116.36 61.07A1.75 1.75 0 1 0 113.99 59.18Q113 61.49 110.96 62.98Z" fill="none" stroke="#40a868" stroke-width="1.05"/>
<path d="M106.86 62.55A1.75 1.75 0 1 0 109.11 64.58Q110.24 62.33 112.36 60.98A1.75 1.75 0 1 0 110.11 58.95Q108.98 61.19 106.86 62.55Z" fill="none" stroke="#40a868" stroke-width="1.05"/>
<path d="M110.8 65.6A1.75 1.75 0 1 0 112.47 68.13Q114.13 66.24 116.52 65.46A1.75 1.75 0 1 0 114.85 62.93Q113.19 64.82 110.8 65.6Z" fill="none" stroke="#40a868" stroke-width="1.05"/>
<path d="M111.37 69.45A1.75 1.75 0 1 0 112.48 72.28Q114.5 70.77 117 70.51A1.75 1.75 0 1 0 115.89 67.69Q113.88 69.19 111.37 69.45Z" fill="none" stroke="#c08040" stroke-width="1.05"/>
<path d="M112.16 73.19A1.75 1.75 0 1 0 112.96 76.11Q115.13 74.82 117.64 74.82A1.75 1.75 0 1 0 116.84 71.9Q114.67 73.19 112.16 73.19Z" fill="none" stroke="#3a90c0" stroke-width="1.05"/>
<path d="M152.47 73.23A1.75 1.75 0 1 0 155.22 74.51Q155.64 72.03 157.26 70.11A1.75 1.75 0 1 0 154.52 68.83Q154.1 71.31 152.47 73.23Z" fill="none" stroke="#c04090" stroke-width="1.05"/>
<path d="M153.29 70.32A1.75 1.75 0 1 0 154.37 73.15Q156.4 71.66 158.9 71.41A1.75 1.75 0 1 0 157.82 68.58Q155.79 70.07 153.29 70.32Z" fill="none" stroke="#c04090" stroke-width="1.05"/>
<path d="M151.02 71.44A1.75 1.75 0 1 0 153.04 73.71Q154.41 71.6 156.66 70.49A1.75 1.75 0 1 0 154.65 68.22Q153.28 70.33 151.02 71.44Z" fill="none" stroke="#c04090" stroke-width="1.05"/>
<path d="M43.64 74.86A1.75 1.75 0 1 0 44.49 77.77Q46.63 76.44 49.15 76.4A1.75 1.75 0 1 0 48.29 73.49Q46.15 74.81 43.64 74.86Z" fill="none" stroke="#3a80a0" stroke-width="1.05"/>
<path d="M60.24 75.6A1.75 1.75 0 1 0 61.05 78.52Q63.21 77.23 65.72 77.23A1.75 1.75 0 1 0 64.92 74.31Q62.75 75.6 60.24 75.6Z" fill="none" stroke="#8050c0" stroke-width="1.05"/>
<path d="M70.57 90.53A1.75 1.75 0 1 0 71.86 93.27Q73.77 91.63 76.25 91.2A1.75 1.75 0 1 0 74.95 88.46Q73.04 90.1 70.57 90.53Z" fill="none" stroke="#48a0a0" stroke-width="1.05"/>
<path d="M78.34 81.96A1.75 1.75 0 1 0 80.35 84.23Q81.72 82.13 83.98 81.03A1.75 1.75 0 1 0 81.98 78.75Q80.6 80.86 78.34 81.96Z" fill="none" stroke="#48a0a0" stroke-width="1.05"/>
<path d="M68.97 83.44A1.75 1.75 0 1 0 70.07 86.27Q72.09 84.77 74.59 84.52A1.75 1.75 0 1 0 73.5 81.69Q71.48 83.19 68.97 83.44Z" fill="none" stroke="#48a0a0" stroke-width="1.05"/>
<path d="M71.6 77.16A1.75 1.75 0 1 0 72.28 80.12Q74.49 78.93 77.01 79.03A1.75 1.75 0 1 0 76.33 76.08Q74.12 77.27 71.6 77.16Z" fill="none" stroke="#48a0a0" stroke-width="1.05"/>
<path d="M77.52 91.3A1.75 1.75 0 1 0 79.12 93.87Q80.83 92.02 83.24 91.3A1.75 1.75 0 1 0 81.63 88.73Q79.93 90.58 77.52 91.3Z" fill="none" stroke="#48a0a0" stroke-width="1.05"/>
<path d="M71.49 89.23A1.75 1.75 0 1 0 72.79 91.96Q74.69 90.32 77.17 89.87A1.75 1.75 0 1 0 75.86 87.14Q73.96 88.78 71.49 89.23Z" fill="none" stroke="#48a0a0" stroke-width="1.05"/>
<path d="M74.22 89.85A1.75 1.75 0 1 0 76 92.3Q77.57 90.34 79.92 89.45A1.75 1.75 0 1 0 78.14 87Q76.57 88.96 74.22 89.85Z" fill="none" stroke="#48a0a0" stroke-width="1.05"/>
<path d="M75.54 82.33A1.75 1.75 0 1 0 77.21 84.86Q78.87 82.97 81.26 82.2A1.75 1.75 0 1 0 79.6 79.66Q77.93 81.55 75.54 82.33Z" fill="none" stroke="#48a0a0" stroke-width="1.05"/>
<path d="M85.75 87.11A1.75 1.75 0 1 0 88.68 87.89Q88.66 85.38 89.93 83.21A1.75 1.75 0 1 0 87.01 82.42Q87.02 84.94 85.75 87.11Z" fill="none" stroke="#3060d0" stroke-width="1.05"/>
<path d="M35.85 80.97A1.75 1.75 0 1 0 36.49 83.93Q38.72 82.77 41.23 82.9A1.75 1.75 0 1 0 40.59 79.94Q38.36 81.1 35.85 80.97Z" fill="none" stroke="#c050b0" stroke-width="1.05"/>
<path d="M47.16 81.36A1.75 1.75 0 1 0 48.09 84.25Q50.19 82.88 52.71 82.77A1.75 1.75 0 1 0 51.78 79.88Q49.67 81.26 47.16 81.36Z" fill="none" stroke="#a090d0" stroke-width="1.05"/>
<path d="M53.8 89.87A1.75 1.75 0 1 0 55.61 92.3Q57.16 90.32 59.5 89.41A1.75 1.75 0 1 0 57.69 86.98Q56.14 88.96 53.8 89.87Z" fill="none" stroke="#a05040" stroke-width="1.05"/>
<path d="M49.7 85.3A1.75 1.75 0 1 0 50.97 88.05Q52.89 86.42 55.37 86.01A1.75 1.75 0 1 0 54.1 83.26Q52.18 84.88 49.7 85.3Z" fill="none" stroke="#a05040" stroke-width="1.05"/>
<path d="M46.13 87.44A1.75 1.75 0 1 0 43.51 88.96Q45.29 90.72 45.93 93.16A1.75 1.75 0 1 0 48.56 91.64Q46.77 89.87 46.13 87.44Z" fill="none" stroke="#a05040" stroke-width="1.05"/>
<path d="M53.38 87.87A1.75 1.75 0 1 0 54.76 90.57Q56.62 88.87 59.08 88.35A1.75 1.75 0 1 0 57.69 85.66Q55.84 87.35 53.38 87.87Z" fill="none" stroke="#a05040" stroke-width="1.05"/>
<path d="M64.77 85.9A1.75 1.75 0 1 0 62.14 87.41Q63.93 89.18 64.57 91.61A1.75 1.75 0 1 0 67.19 90.1Q65.4 88.33 64.77 85.9Z" fill="none" stroke="#48a0a0" stroke-width="1.05"/>
<path d="M58 87.46A1.75 1.75 0 1 0 58.62 90.42Q60.86 89.28 63.37 89.43A1.75 1.75 0 1 0 62.75 86.46Q60.51 87.61 58 87.46Z" fill="none" stroke="#48a0a0" stroke-width="1.05"/>
<path d="M60.57 85.16A1.75 1.75 0 1 0 61.21 88.12Q63.44 86.96 65.95 87.1A1.75 1.75 0 1 0 65.32 84.14Q63.09 85.3 60.57 85.16Z" fill="none" stroke="#48a0a0" stroke-width="1.05"/>
<path d="M57.76 90.69A1.75 1.75 0 1 0 59.46 93.2Q61.09 91.29 63.48 90.49A1.75 1.75 0 1 0 61.78 87.98Q60.14 89.88 57.76 90.69Z" fill="none" stroke="#48a0a0" stroke-width="1.05"/>
<path d="M87.9 91.6A1.75 1.75 0 1 0 88.87 94.47Q90.96 93.07 93.47 92.93A1.75 1.75 0 1 0 92.5 90.05Q90.41 91.46 87.9 91.6Z" fill="none" stroke="#88c0c0" stroke-width="1.05"/>
<path d="M34.92 96.79A1.75 1.75 0 1 0 36.11 99.57Q38.08 98 40.57 97.66A1.75 1.75 0 1 0 39.38 94.88Q37.41 96.44 34.92 96.79Z" fill="none" stroke="#803040" stroke-width="1.05"/>
<path d="M32.9 93.47A1.75 1.75 0 1 0 34.35 96.13Q36.16 94.38 38.61 93.81A1.75 1.75 0 1 0 37.16 91.15Q35.35 92.89 32.9 93.47Z" fill="none" stroke="#803040" stroke-width="1.05"/>
<path d="M32.55 93.68A1.75 1.75 0 1 0 34.07 96.3Q35.83 94.5 38.27 93.86A1.75 1.75 0 1 0 36.74 91.24Q34.98 93.03 32.55 93.68Z" fill="none" stroke="#803040" stroke-width="1.05"/>
<path d="M51.71 107.11A1.75 1.75 0 1 0 53.2 109.75Q54.99 107.98 57.43 107.37A1.75 1.75 0 1 0 55.94 104.73Q54.15 106.5 51.71 107.11Z" fill="none" stroke="#203080" stroke-width="1.05"/>
<path d="M44.86 106.04A1.75 1.75 0 1 0 46.93 108.26Q48.25 106.11 50.47 104.94A1.75 1.75 0 1 0 48.4 102.73Q47.09 104.87 44.86 106.04Z" fill="none" stroke="#203080" stroke-width="1.05"/>
<path d="M44.57 99.91A1.75 1.75 0 1 0 46.01 102.58Q47.83 100.85 50.28 100.29A1.75 1.75 0 1 0 48.85 97.62Q47.03 99.35 44.57 99.91Z" fill="none" stroke="#203080" stroke-width="1.05"/>
<path d="M54.99 98.28A1.75 1.75 0 1 0 56.93 100.61Q58.37 98.55 60.66 97.51A1.75 1.75 0 1 0 58.72 95.18Q57.28 97.24 54.99 98.28Z" fill="none" stroke="#203080" stroke-width="1.05"/>
<path d="M55.64 109.56A1.75 1.75 0 1 0 57.16 112.19Q58.93 110.39 61.36 109.76A1.75 1.75 0 1 0 59.84 107.13Q58.07 108.92 55.64 109.56Z" fill="none" stroke="#203080" stroke-width="1.05"/>
<path d="M50.84 98.5A1.75 1.75 0 1 0 52.13 101.24Q54.04 99.6 56.52 99.16A1.75 1.75 0 1 0 55.22 96.42Q53.31 98.06 50.84 98.5Z" fill="none" stroke="#203080" stroke-width="1.05"/>
<path d="M47.17 101.66A1.75 1.75 0 1 0 48.79 104.22Q50.48 102.37 52.89 101.63A1.75 1.75 0 1 0 51.27 99.07Q49.57 100.93 47.17 101.66Z" fill="none" stroke="#203080" stroke-width="1.05"/>
<path d="M55 104.09A1.75 1.75 0 1 0 56.38 106.79Q58.24 105.09 60.7 104.58A1.75 1.75 0 1 0 59.32 101.88Q57.46 103.58 55 104.09Z" fill="none" stroke="#203080" stroke-width="1.05"/>
<path d="M63.71 97.27A1.75 1.75 0 1 0 64.29 100.25Q66.54 99.13 69.05 99.32A1.75 1.75 0 1 0 68.47 96.34Q66.21 97.46 63.71 97.27Z" fill="none" stroke="#c08080" stroke-width="1.05"/>
<path d="M67.24 94.88A1.75 1.75 0 1 0 69.38 97.02Q70.63 94.83 72.81 93.59A1.75 1.75 0 1 0 70.67 91.45Q69.42 93.63 67.24 94.88Z" fill="none" stroke="#a0b8b8" stroke-width="1.05"/>
<path d="M73.76 89.92A1.75 1.75 0 1 0 73.76 92.95Q76.18 92.28 78.61 92.95A1.75 1.75 0 1 0 78.61 89.92Q76.18 90.58 73.76 89.92Z" fill="none" stroke="#a0b8b8" stroke-width="1.05"/>
<path d="M80.93 90.79A1.75 1.75 0 1 0 80.5 93.8Q83 93.48 85.31 94.48A1.75 1.75 0 1 0 85.73 91.47Q83.24 91.79 80.93 90.79Z" fill="none" stroke="#a0b8b8" stroke-width="1.05"/>
<path d="M71.14 104.43A1.75 1.75 0 1 0 72.38 107.19Q74.32 105.59 76.8 105.2A1.75 1.75 0 1 0 75.56 102.44Q73.62 104.04 71.14 104.43Z" fill="none" stroke="#98d058" stroke-width="1.05"/>
<path d="M71.59 100.04A1.75 1.75 0 1 0 73.05 102.7Q74.85 100.95 77.3 100.36A1.75 1.75 0 1 0 75.84 97.71Q74.04 99.46 71.59 100.04Z" fill="none" stroke="#98d058" stroke-width="1.05"/>
<path d="M80.4 105.47A1.75 1.75 0 1 0 81.52 108.28Q83.53 106.76 86.02 106.48A1.75 1.75 0 1 0 84.9 103.67Q82.89 105.19 80.4 105.47Z" fill="none" stroke="#98d058" stroke-width="1.05"/>
<path d="M74.66 101.43A1.75 1.75 0 1 0 75.21 104.42Q77.47 103.32 79.98 103.54A1.75 1.75 0 1 0 79.43 100.56Q77.17 101.65 74.66 101.43Z" fill="none" stroke="#98d058" stroke-width="1.05"/>
<path d="M87.1 107.63A1.75 1.75 0 1 0 88.9 110.07Q90.45 108.09 92.8 107.18A1.75 1.75 0 1 0 90.99 104.74Q89.44 106.72 87.1 107.63Z" fill="none" stroke="#8050c0" stroke-width="1.05"/>
<path d="M84.39 107.01A1.75 1.75 0 1 0 85.04 109.98Q87.26 108.81 89.77 108.94A1.75 1.75 0 1 0 89.13 105.98Q86.9 107.15 84.39 107.01Z" fill="none" stroke="#8050c0" stroke-width="1.05"/>
<path d="M85.63 107.66A1.75 1.75 0 1 0 87.03 110.34Q88.87 108.63 91.33 108.1A1.75 1.75 0 1 0 89.93 105.41Q88.09 107.12 85.63 107.66Z" fill="none" stroke="#8050c0" stroke-width="1.05"/>
<path d="M87.88 106.25A1.75 1.75 0 1 0 89.87 108.54Q91.26 106.44 93.52 105.35A1.75 1.75 0 1 0 91.53 103.06Q90.14 105.16 87.88 106.25Z" fill="none" stroke="#8050c0" stroke-width="1.05"/>
<path d="M36.09 112.06A1.75 1.75 0 1 0 37.39 114.79Q39.29 113.15 41.77 112.71A1.75 1.75 0 1 0 40.47 109.98Q38.56 111.62 36.09 112.06Z" fill="none" stroke="#e08868" stroke-width="1.05"/>
<path d="M32.5 108.91A1.75 1.75 0 1 0 33.5 111.77Q35.57 110.34 38.08 110.16A1.75 1.75 0 1 0 37.07 107.3Q35 108.73 32.5 108.91Z" fill="none" stroke="#e08868" stroke-width="1.05"/>
<path d="M34.25 112.55A1.75 1.75 0 1 0 35.02 115.48Q37.2 114.22 39.71 114.24A1.75 1.75 0 1 0 38.94 111.31Q36.76 112.58 34.25 112.55Z" fill="none" stroke="#e08868" stroke-width="1.05"/>
<path d="M49.26 115.27A1.75 1.75 0 1 0 50.12 118.17Q52.26 116.85 54.77 116.8A1.75 1.75 0 1 0 53.91 113.89Q51.78 115.22 49.26 115.27Z" fill="none" stroke="#48a048" stroke-width="1.05"/>
<path d="M56.48 117.63A1.75 1.75 0 1 0 57.5 120.48Q59.56 119.04 62.06 118.84A1.75 1.75 0 1 0 61.04 115.99Q58.98 117.43 56.48 117.63Z" fill="none" stroke="#48a048" stroke-width="1.05"/>
<path d="M54.39 116.16A1.75 1.75 0 1 0 55.53 118.97Q57.53 117.44 60.02 117.15A1.75 1.75 0 1 0 58.89 114.34Q56.89 115.86 54.39 116.16Z" fill="none" stroke="#48a048" stroke-width="1.05"/>
<path d="M55.71 111.46A1.75 1.75 0 1 0 56.65 114.35Q58.75 112.96 61.26 112.85A1.75 1.75 0 1 0 60.32 109.97Q58.22 111.35 55.71 111.46Z" fill="none" stroke="#48a048" stroke-width="1.05"/>
<path d="M58.01 116.03A1.75 1.75 0 1 0 58.7 118.98Q60.91 117.77 63.42 117.86A1.75 1.75 0 1 0 62.73 114.91Q60.52 116.12 58.01 116.03Z" fill="none" stroke="#48a048" stroke-width="1.05"/>
<path d="M51.26 118.87A1.75 1.75 0 1 0 52.63 121.58Q54.5 119.89 56.96 119.38A1.75 1.75 0 1 0 55.59 116.68Q53.73 118.37 51.26 118.87Z" fill="none" stroke="#48a048" stroke-width="1.05"/>
<path d="M69.58 109.14A1.75 1.75 0 1 0 70.11 112.12Q72.38 111.03 74.89 111.26A1.75 1.75 0 1 0 74.35 108.28Q72.08 109.36 69.58 109.14Z" fill="none" stroke="#5050c0" stroke-width="1.05"/>
<path d="M66.99 117.27A1.75 1.75 0 1 0 67.97 120.14Q70.05 118.73 72.56 118.58A1.75 1.75 0 1 0 71.59 115.71Q69.5 117.12 66.99 117.27Z" fill="none" stroke="#d8d840" stroke-width="1.05"/>
<path d="M82.78 116.91A1.75 1.75 0 1 0 83.85 119.74Q85.88 118.26 88.39 118.03A1.75 1.75 0 1 0 87.32 115.19Q85.28 116.67 82.78 116.91Z" fill="none" stroke="#58c080" stroke-width="1.05"/>
<path d="M87.37 121.8A1.75 1.75 0 1 0 88.94 124.39Q90.67 122.57 93.09 121.88A1.75 1.75 0 1 0 91.52 119.29Q89.79 121.11 87.37 121.8Z" fill="none" stroke="#58c080" stroke-width="1.05"/>
<path d="M84.07 120.74A1.75 1.75 0 1 0 85.35 123.48Q87.27 121.85 89.74 121.43A1.75 1.75 0 1 0 88.46 118.68Q86.54 120.31 84.07 120.74Z" fill="none" stroke="#58c080" stroke-width="1.05"/>
<path d="M80.37 121.67A1.75 1.75 0 1 0 81.58 124.45Q83.54 122.88 86.03 122.53A1.75 1.75 0 1 0 84.83 119.75Q82.86 121.32 80.37 121.67Z" fill="none" stroke="#58c080" stroke-width="1.05"/>
<path d="M87.94 126.28A1.75 1.75 0 1 0 89.56 128.84Q91.25 126.98 93.66 126.24A1.75 1.75 0 1 0 92.03 123.68Q90.34 125.55 87.94 126.28Z" fill="none" stroke="#5060c0" stroke-width="1.05"/>
<path d="M77.68 128.26A1.75 1.75 0 1 0 78.77 131.09Q80.79 129.6 83.29 129.34A1.75 1.75 0 1 0 82.2 126.52Q80.18 128.01 77.68 128.26Z" fill="none" stroke="#5060c0" stroke-width="1.05"/>
<path d="M89.12 130.5A1.75 1.75 0 1 0 90.88 132.97Q92.46 131.02 94.82 130.15A1.75 1.75 0 1 0 93.06 127.68Q91.48 129.63 89.12 130.5Z" fill="none" stroke="#5060c0" stroke-width="1.05"/>
<path d="M86.93 127.83A1.75 1.75 0 1 0 89.08 129.97Q90.32 127.79 92.51 126.54A1.75 1.75 0 1 0 90.36 124.4Q89.12 126.59 86.93 127.83Z" fill="none" stroke="#5060c0" stroke-width="1.05"/>
<path d="M77.42 121.44A1.75 1.75 0 1 0 79.54 123.6Q80.8 121.43 83 120.2A1.75 1.75 0 1 0 80.87 118.04Q79.61 120.22 77.42 121.44Z" fill="none" stroke="#5060c0" stroke-width="1.05"/>
<path d="M77.38 126.59A1.75 1.75 0 1 0 78.62 129.35Q80.56 127.76 83.05 127.38A1.75 1.75 0 1 0 81.81 124.61Q79.87 126.21 77.38 126.59Z" fill="none" stroke="#5060c0" stroke-width="1.05"/>
<path d="M32.53 118.15A1.75 1.75 0 1 0 33.84 120.88Q35.74 119.23 38.21 118.78A1.75 1.75 0 1 0 36.9 116.05Q35 117.7 32.53 118.15Z" fill="none" stroke="#5050c0" stroke-width="1.05"/>
<path d="M44.69 129.48A1.75 1.75 0 1 0 47.01 131.43Q48.06 129.14 50.13 127.72A1.75 1.75 0 1 0 47.81 125.77Q46.76 128.05 44.69 129.48Z" fill="none" stroke="#d09090" stroke-width="1.05"/>
<path d="M37.52 130.42A1.75 1.75 0 1 0 39.72 132.5Q40.9 130.27 43.05 128.97A1.75 1.75 0 1 0 40.84 126.89Q39.66 129.11 37.52 130.42Z" fill="none" stroke="#d09090" stroke-width="1.05"/>
<path d="M32.95 129.69A1.75 1.75 0 1 0 35.29 131.62Q36.32 129.33 38.38 127.89A1.75 1.75 0 1 0 36.04 125.96Q35.01 128.25 32.95 129.69Z" fill="none" stroke="#d09090" stroke-width="1.05"/>
<path d="M33.99 129.35A1.75 1.75 0 1 0 35.88 131.71Q37.36 129.68 39.67 128.68A1.75 1.75 0 1 0 37.78 126.31Q36.3 128.35 33.99 129.35Z" fill="none" stroke="#d09090" stroke-width="1.05"/>
<path d="M41.37 121.4A1.75 1.75 0 1 0 41.27 124.42Q43.72 123.84 46.12 124.58A1.75 1.75 0 1 0 46.22 121.55Q43.77 122.14 41.37 121.4Z" fill="none" stroke="#50b0a0" stroke-width="1.05"/>
<path d="M58.02 129.46A1.75 1.75 0 1 0 57.61 132.46Q60.1 132.13 62.41 133.12A1.75 1.75 0 1 0 62.83 130.12Q60.33 130.45 58.02 129.46Z" fill="none" stroke="#6060c0" stroke-width="1.05"/>
<path d="M50.46 132.55A1.75 1.75 0 1 0 50.09 135.56Q52.58 135.2 54.9 136.16A1.75 1.75 0 1 0 55.28 133.15Q52.79 133.51 50.46 132.55Z" fill="none" stroke="#6060c0" stroke-width="1.05"/>
<path d="M59.16 125.64A1.75 1.75 0 1 0 59.89 128.58Q62.08 127.35 64.59 127.41A1.75 1.75 0 1 0 63.87 124.47Q61.67 125.7 59.16 125.64Z" fill="none" stroke="#6060c0" stroke-width="1.05"/>
<path d="M59.03 127.58A1.75 1.75 0 1 0 59.1 130.61Q61.5 129.89 63.94 130.5A1.75 1.75 0 1 0 63.87 127.47Q61.47 128.19 59.03 127.58Z" fill="none" stroke="#6060c0" stroke-width="1.05"/>
<path d="M68.33 133.46A1.75 1.75 0 1 0 69.71 136.17Q71.57 134.47 74.03 133.97A1.75 1.75 0 1 0 72.66 131.27Q70.8 132.96 68.33 133.46Z" fill="none" stroke="#e08070" stroke-width="1.05"/>
<path d="M75.81 134.72A1.75 1.75 0 1 0 76.82 137.58Q78.88 136.13 81.39 135.95A1.75 1.75 0 1 0 80.37 133.09Q78.31 134.53 75.81 134.72Z" fill="none" stroke="#c040a0" stroke-width="1.05"/>
<path d="M76.48 133.02A1.75 1.75 0 1 0 77.53 135.87Q79.57 134.41 82.08 134.2A1.75 1.75 0 1 0 81.03 131.35Q78.99 132.81 76.48 133.02Z" fill="none" stroke="#c040a0" stroke-width="1.05"/>
<path d="M72.27 133.41A1.75 1.75 0 1 0 72.9 136.38Q75.14 135.22 77.65 135.37A1.75 1.75 0 1 0 77.02 132.4Q74.78 133.56 72.27 133.41Z" fill="none" stroke="#c040a0" stroke-width="1.05"/>
<path d="M85.09 133.83A1.75 1.75 0 1 0 86.64 136.44Q88.38 134.63 90.81 133.97A1.75 1.75 0 1 0 89.26 131.36Q87.52 133.17 85.09 133.83Z" fill="none" stroke="#58b058" stroke-width="1.05"/>
<path d="M79.01 130.03A1.75 1.75 0 1 0 80.89 132.41Q82.38 130.38 84.69 129.4A1.75 1.75 0 1 0 82.82 127.02Q81.33 129.05 79.01 130.03Z" fill="none" stroke="#58b058" stroke-width="1.05"/>
<path d="M82.35 129.61A1.75 1.75 0 1 0 83.94 132.19Q85.66 130.35 88.07 129.65A1.75 1.75 0 1 0 86.48 127.07Q84.76 128.91 82.35 129.61Z" fill="none" stroke="#58b058" stroke-width="1.05"/>
<path d="M27.28 139.95A1.75 1.75 0 1 0 30.21 140.73Q30.19 138.22 31.46 136.05A1.75 1.75 0 1 0 28.54 135.26Q28.55 137.78 27.28 139.95Z" fill="none" stroke="#e04040" stroke-width="1.05"/>
<path d="M96.35 74.01A1.75 1.75 0 1 0 97.09 76.95Q99.28 75.71 101.79 75.76A1.75 1.75 0 1 0 101.05 72.82Q98.86 74.06 96.35 74.01Z" fill="none" stroke="#58b070" stroke-width="1.05"/>
<path d="M108.49 79.35A1.75 1.75 0 1 0 109.43 82.24Q111.53 80.85 114.04 80.74A1.75 1.75 0 1 0 113.1 77.85Q111 79.24 108.49 79.35Z" fill="none" stroke="#d09070" stroke-width="1.05"/>
<path d="M129.4 75.42A1.75 1.75 0 1 0 126.78 76.94Q128.57 78.71 129.2 81.14A1.75 1.75 0 1 0 131.83 79.62Q130.04 77.86 129.4 75.42Z" fill="none" stroke="#306060" stroke-width="1.05"/>
<path d="M117.61 80A1.75 1.75 0 1 0 119.67 82.22Q121 80.08 123.23 78.92A1.75 1.75 0 1 0 121.16 76.7Q119.84 78.84 117.61 80Z" fill="none" stroke="#306060" stroke-width="1.05"/>
<path d="M117.51 77.76A1.75 1.75 0 1 0 118.37 80.67Q120.51 79.35 123.02 79.3A1.75 1.75 0 1 0 122.16 76.39Q120.02 77.72 117.51 77.76Z" fill="none" stroke="#306060" stroke-width="1.05"/>
<path d="M135.41 81.95A1.75 1.75 0 1 0 136.21 84.87Q138.37 83.58 140.89 83.58A1.75 1.75 0 1 0 140.08 80.66Q137.92 81.94 135.41 81.95Z" fill="none" stroke="#90a040" stroke-width="1.05"/>
<path d="M136.24 75.16A1.75 1.75 0 1 0 136.2 78.2Q138.63 77.57 141.05 78.27A1.75 1.75 0 1 0 141.09 75.23Q138.66 75.87 136.24 75.16Z" fill="none" stroke="#d84a98" stroke-width="1.05"/>
<path d="M132.55 92.46A1.75 1.75 0 1 0 133.88 95.18Q135.77 93.53 138.24 93.07A1.75 1.75 0 1 0 136.92 90.34Q135.03 92 132.55 92.46Z" fill="none" stroke="#d84a98" stroke-width="1.05"/>
<path d="M144.74 88.51A1.75 1.75 0 1 0 145.3 91.49Q147.56 90.39 150.07 90.6A1.75 1.75 0 1 0 149.51 87.62Q147.25 88.72 144.74 88.51Z" fill="none" stroke="#d84a98" stroke-width="1.05"/>
<path d="M137.35 86A1.75 1.75 0 1 0 138.21 88.91Q140.35 87.59 142.86 87.54A1.75 1.75 0 1 0 142.01 84.64Q139.87 85.96 137.35 86Z" fill="none" stroke="#d84a98" stroke-width="1.05"/>
<path d="M146.28 78.54A1.75 1.75 0 1 0 146.83 81.52Q149.09 80.43 151.6 80.65A1.75 1.75 0 1 0 151.05 77.67Q148.79 78.76 146.28 78.54Z" fill="none" stroke="#d84a98" stroke-width="1.05"/>
<path d="M146.22 94.09A1.75 1.75 0 1 0 147.13 96.98Q149.24 95.61 151.76 95.51A1.75 1.75 0 1 0 150.84 92.62Q148.73 93.99 146.22 94.09Z" fill="none" stroke="#d84a98" stroke-width="1.05"/>
<path d="M140.62 88.66A1.75 1.75 0 1 0 140.78 91.68Q143.17 90.89 145.63 91.43A1.75 1.75 0 1 0 145.47 88.4Q143.08 89.19 140.62 88.66Z" fill="none" stroke="#d84a98" stroke-width="1.05"/>
<path d="M142.44 89.81A1.75 1.75 0 1 0 142.89 92.81Q145.19 91.79 147.69 92.09A1.75 1.75 0 1 0 147.24 89.09Q144.94 90.11 142.44 89.81Z" fill="none" stroke="#d84a98" stroke-width="1.05"/>
<path d="M134.78 73.55A1.75 1.75 0 1 0 134.65 76.57Q137.11 76.01 139.5 76.78A1.75 1.75 0 1 0 139.63 73.75Q137.18 74.31 134.78 73.55Z" fill="none" stroke="#d84a98" stroke-width="1.05"/>
<path d="M138.91 92.89A1.75 1.75 0 1 0 138.5 95.89Q140.99 95.56 143.31 96.55A1.75 1.75 0 1 0 143.72 93.55Q141.22 93.88 138.91 92.89Z" fill="none" stroke="#d84a98" stroke-width="1.05"/>
<path d="M129.44 93.53A1.75 1.75 0 1 0 130.35 96.42Q132.46 95.06 134.98 94.97A1.75 1.75 0 1 0 134.07 92.08Q131.96 93.44 129.44 93.53Z" fill="none" stroke="#d84a98" stroke-width="1.05"/>
<path d="M97.99 89.57A1.75 1.75 0 1 0 100.92 90.35Q100.91 87.84 102.18 85.67A1.75 1.75 0 1 0 99.25 84.88Q99.26 87.4 97.99 89.57Z" fill="none" stroke="#50a0a0" stroke-width="1.05"/>
<path d="M107.35 85.16A1.75 1.75 0 1 0 108.03 88.11Q110.24 86.92 112.75 87.03A1.75 1.75 0 1 0 112.08 84.08Q109.86 85.27 107.35 85.16Z" fill="none" stroke="#8050c0" stroke-width="1.05"/>
<path d="M113.64 87.56A1.75 1.75 0 1 0 114.34 90.51Q116.54 89.3 119.06 89.39A1.75 1.75 0 1 0 118.35 86.44Q116.15 87.65 113.64 87.56Z" fill="none" stroke="#90a040" stroke-width="1.05"/>
<path d="M123.04 89.56A1.75 1.75 0 1 0 123.55 92.55Q125.83 91.48 128.33 91.73A1.75 1.75 0 1 0 127.82 88.74Q125.54 89.81 123.04 89.56Z" fill="none" stroke="#9050a0" stroke-width="1.05"/>
<path d="M96.56 99.94A1.75 1.75 0 1 0 99.49 100.73Q99.47 98.21 100.74 96.04A1.75 1.75 0 1 0 97.81 95.26Q97.83 97.77 96.56 99.94Z" fill="none" stroke="#e080b0" stroke-width="1.05"/>
<path d="M103.56 100.7A1.75 1.75 0 1 0 105.06 103.33Q106.84 101.56 109.27 100.94A1.75 1.75 0 1 0 107.77 98.3Q106 100.08 103.56 100.7Z" fill="none" stroke="#704060" stroke-width="1.05"/>
<path d="M102.93 96.69A1.75 1.75 0 1 0 104.54 99.26Q106.24 97.41 108.65 96.7A1.75 1.75 0 1 0 107.05 94.12Q105.34 95.97 102.93 96.69Z" fill="none" stroke="#704060" stroke-width="1.05"/>
<path d="M96.39 98.89A1.75 1.75 0 1 0 97.78 101.59Q99.63 99.89 102.09 99.37A1.75 1.75 0 1 0 100.71 96.67Q98.85 98.37 96.39 98.89Z" fill="none" stroke="#704060" stroke-width="1.05"/>
<path d="M110.47 106.71A1.75 1.75 0 1 0 111.18 109.66Q113.38 108.45 115.9 108.53A1.75 1.75 0 1 0 115.19 105.58Q112.99 106.79 110.47 106.71Z" fill="none" stroke="#806070" stroke-width="1.05"/>
<path d="M122.98 103.28A1.75 1.75 0 1 0 123.98 106.14Q126.05 104.72 128.56 104.55A1.75 1.75 0 1 0 127.56 101.68Q125.49 103.11 122.98 103.28Z" fill="none" stroke="#806070" stroke-width="1.05"/>
<path d="M118.21 109.74A1.75 1.75 0 1 0 118.9 112.69Q121.11 111.49 123.62 111.58A1.75 1.75 0 1 0 122.93 108.63Q120.72 109.83 118.21 109.74Z" fill="none" stroke="#806070" stroke-width="1.05"/>
<path d="M111.23 102.39A1.75 1.75 0 1 0 111.66 105.39Q113.96 104.38 116.46 104.7A1.75 1.75 0 1 0 116.03 101.7Q113.72 102.7 111.23 102.39Z" fill="none" stroke="#806070" stroke-width="1.05"/>
<path d="M114.16 96.31A1.75 1.75 0 1 0 115 99.22Q117.14 97.91 119.66 97.87A1.75 1.75 0 1 0 118.81 94.96Q116.67 96.28 114.16 96.31Z" fill="none" stroke="#806070" stroke-width="1.05"/>
<path d="M121.02 98.57A1.75 1.75 0 1 0 121.26 101.59Q123.63 100.73 126.1 101.2A1.75 1.75 0 1 0 125.85 98.18Q123.49 99.04 121.02 98.57Z" fill="none" stroke="#806070" stroke-width="1.05"/>
<path d="M133.69 99.2A1.75 1.75 0 1 0 134.29 102.17Q136.54 101.04 139.05 101.21A1.75 1.75 0 1 0 138.45 98.24Q136.2 99.37 133.69 99.2Z" fill="none" stroke="#406040" stroke-width="1.05"/>
<path d="M132.23 100.59A1.75 1.75 0 1 0 133.19 103.46Q135.28 102.07 137.79 101.93A1.75 1.75 0 1 0 136.83 99.05Q134.74 100.45 132.23 100.59Z" fill="none" stroke="#406040" stroke-width="1.05"/>
<path d="M127.58 100.67A1.75 1.75 0 1 0 128.38 103.6Q130.54 102.32 133.06 102.32A1.75 1.75 0 1 0 132.26 99.4Q130.09 100.68 127.58 100.67Z" fill="none" stroke="#406040" stroke-width="1.05"/>
<path d="M136.47 105.74A1.75 1.75 0 1 0 137.82 108.45Q139.69 106.77 142.16 106.28A1.75 1.75 0 1 0 140.8 103.57Q138.93 105.25 136.47 105.74Z" fill="none" stroke="#c03050" stroke-width="1.05"/>
<path d="M100.89 106.84A1.75 1.75 0 1 0 102.5 109.4Q104.2 107.55 106.61 106.83A1.75 1.75 0 1 0 105 104.26Q103.3 106.11 100.89 106.84Z" fill="none" stroke="#90a040" stroke-width="1.05"/>
<path d="M97.09 113.02A1.75 1.75 0 1 0 98.17 115.86Q100.2 114.37 102.7 114.13A1.75 1.75 0 1 0 101.62 111.3Q99.59 112.78 97.09 113.02Z" fill="none" stroke="#40a0a0" stroke-width="1.05"/>
<path d="M119.4 115.11A1.75 1.75 0 1 0 119.85 118.11Q122.15 117.09 124.65 117.39A1.75 1.75 0 1 0 124.2 114.39Q121.9 115.41 119.4 115.11Z" fill="none" stroke="#6060c0" stroke-width="1.05"/>
<path d="M133.4 110.98A1.75 1.75 0 1 0 133.88 113.97Q136.17 112.93 138.67 113.21A1.75 1.75 0 1 0 138.19 110.21Q135.9 111.25 133.4 110.98Z" fill="none" stroke="#6060c0" stroke-width="1.05"/>
<path d="M138.88 117.8A1.75 1.75 0 1 0 139.55 120.75Q141.77 119.57 144.28 119.69A1.75 1.75 0 1 0 143.61 116.73Q141.39 117.91 138.88 117.8Z" fill="none" stroke="#b8dc78" stroke-width="1.05"/>
<path d="M127.47 117.34A1.75 1.75 0 1 0 128.43 120.21Q130.52 118.82 133.03 118.69A1.75 1.75 0 1 0 132.08 115.81Q129.98 117.2 127.47 117.34Z" fill="none" stroke="#c04090" stroke-width="1.05"/>
<path d="M126.26 123.02A1.75 1.75 0 1 0 127.55 125.76Q129.46 124.13 131.94 123.7A1.75 1.75 0 1 0 130.65 120.96Q128.74 122.59 126.26 123.02Z" fill="none" stroke="#e0a0d0" stroke-width="1.05"/>
<path d="M108.56 118.57A1.75 1.75 0 1 0 109.59 121.42Q111.64 119.97 114.15 119.77A1.75 1.75 0 1 0 113.12 116.92Q111.06 118.37 108.56 118.57Z" fill="none" stroke="#9050b0" stroke-width="1.05"/>
<path d="M114.35 122.87A1.75 1.75 0 1 0 115.13 125.8Q117.3 124.54 119.81 124.56A1.75 1.75 0 1 0 119.04 121.63Q116.86 122.89 114.35 122.87Z" fill="none" stroke="#b0a060" stroke-width="1.05"/>
<path d="M148.58 128.48A1.75 1.75 0 1 0 149.36 131.41Q151.53 130.15 154.05 130.17A1.75 1.75 0 1 0 153.27 127.24Q151.1 128.5 148.58 128.48Z" fill="none" stroke="#e040a0" stroke-width="1.05"/>
<path d="M152.7 116.72A1.75 1.75 0 1 0 154.48 119.17Q156.05 117.2 158.4 116.31A1.75 1.75 0 1 0 156.61 113.86Q155.05 115.83 152.7 116.72Z" fill="none" stroke="#e040a0" stroke-width="1.05"/>
<path d="M152.09 107.87A1.75 1.75 0 1 0 152.64 110.85Q154.91 109.76 157.41 109.97A1.75 1.75 0 1 0 156.86 106.99Q154.6 108.09 152.09 107.87Z" fill="none" stroke="#e040a0" stroke-width="1.05"/>
<path d="M146.25 122.9A1.75 1.75 0 1 0 147.15 125.79Q149.27 124.44 151.78 124.35A1.75 1.75 0 1 0 150.88 121.46Q148.76 122.81 146.25 122.9Z" fill="none" stroke="#e040a0" stroke-width="1.05"/>
<path d="M154.09 132.55A1.75 1.75 0 1 0 156.4 134.51Q157.46 132.23 159.53 130.81A1.75 1.75 0 1 0 157.22 128.85Q156.16 131.13 154.09 132.55Z" fill="none" stroke="#e040a0" stroke-width="1.05"/>
<path d="M152.1 130.53A1.75 1.75 0 1 0 152.92 133.45Q155.08 132.15 157.59 132.14A1.75 1.75 0 1 0 156.77 129.22Q154.62 130.52 152.1 130.53Z" fill="none" stroke="#e040a0" stroke-width="1.05"/>
<path d="M152.04 111.1A1.75 1.75 0 1 0 153.73 113.62Q155.37 111.72 157.76 110.92A1.75 1.75 0 1 0 156.07 108.4Q154.42 110.3 152.04 111.1Z" fill="none" stroke="#e040a0" stroke-width="1.05"/>
<path d="M148.64 129.58A1.75 1.75 0 1 0 149.72 132.42Q151.75 130.94 154.25 130.7A1.75 1.75 0 1 0 153.18 127.86Q151.15 129.35 148.64 129.58Z" fill="none" stroke="#e040a0" stroke-width="1.05"/>
<path d="M103.59 127.58A1.75 1.75 0 1 0 105.56 129.89Q106.97 127.81 109.25 126.75A1.75 1.75 0 1 0 107.29 124.44Q105.87 126.52 103.59 127.58Z" fill="none" stroke="#4050c0" stroke-width="1.05"/>
<path d="M95.19 134.26A1.75 1.75 0 1 0 96.91 136.76Q98.53 134.83 100.9 133.99A1.75 1.75 0 1 0 99.17 131.5Q97.56 133.43 95.19 134.26Z" fill="none" stroke="#4050c0" stroke-width="1.05"/>
<path d="M98.89 126.64A1.75 1.75 0 1 0 101.08 128.73Q102.28 126.51 104.43 125.22A1.75 1.75 0 1 0 102.24 123.12Q101.05 125.34 98.89 126.64Z" fill="none" stroke="#4050c0" stroke-width="1.05"/>
<path d="M105.14 132.52A1.75 1.75 0 1 0 107.33 134.61Q108.52 132.4 110.68 131.1A1.75 1.75 0 1 0 108.49 129.01Q107.3 131.22 105.14 132.52Z" fill="none" stroke="#4050c0" stroke-width="1.05"/>
<path d="M116.39 132.73A1.75 1.75 0 1 0 116.7 135.74Q119.05 134.83 121.53 135.24A1.75 1.75 0 1 0 121.22 132.23Q118.87 133.14 116.39 132.73Z" fill="none" stroke="#60c040" stroke-width="1.05"/>
<path d="M119.54 133.63A1.75 1.75 0 1 0 119.07 136.62Q121.57 136.34 123.86 137.37A1.75 1.75 0 1 0 124.33 134.38Q121.83 134.66 119.54 133.63Z" fill="none" stroke="#60c040" stroke-width="1.05"/>
<path d="M119.4 134.17A1.75 1.75 0 1 0 119.74 137.18Q122.07 136.26 124.56 136.65A1.75 1.75 0 1 0 124.22 133.64Q121.89 134.57 119.4 134.17Z" fill="none" stroke="#60c040" stroke-width="1.05"/>
<path d="M132.25 134.83A1.75 1.75 0 1 0 133.27 137.68Q135.33 136.24 137.84 136.05A1.75 1.75 0 1 0 136.82 133.2Q134.76 134.64 132.25 134.83Z" fill="none" stroke="#e08050" stroke-width="1.05"/>
<path d="M145.63 136.7A1.75 1.75 0 1 0 146.26 139.66Q148.5 138.51 151.01 138.65A1.75 1.75 0 1 0 150.37 135.69Q148.14 136.85 145.63 136.7Z" fill="none" stroke="#4050c0" stroke-width="1.05"/>
<path d="M156.2 102.6A1.75 1.75 0 1 0 159.12 103.39Q159.11 100.87 160.38 98.7A1.75 1.75 0 1 0 157.45 97.92Q157.47 100.43 156.2 102.6Z" fill="none" stroke="#40a080" stroke-width="1.05"/>
<path d="M158.16 12.96A1.75 1.75 0 1 0 159.87 15.46Q161.5 13.55 163.87 12.73A1.75 1.75 0 1 0 162.17 10.23Q160.54 12.14 158.16 12.96Z" fill="none" stroke="#306030" stroke-width="1.05"/>
<path d="M27.68 13.5A1.75 1.75 0 1 0 29.28 16.07Q30.99 14.23 33.4 13.52A1.75 1.75 0 1 0 31.8 10.94Q30.09 12.78 27.68 13.5Z" fill="none" stroke="#c4b82c" stroke-width="1.05"/>
<path d="M100.5 68.5A1.75 1.75 0 1 0 101.52 71.36Q103.58 69.92 106.08 69.73A1.75 1.75 0 1 0 105.07 66.88Q103.01 68.32 100.5 68.5Z" fill="none" stroke="#58b070" stroke-width="1.05"/>
<path d="M93.69 78.44A1.75 1.75 0 1 0 94.21 81.42Q96.49 80.35 98.99 80.59A1.75 1.75 0 1 0 98.47 77.61Q96.2 78.68 93.69 78.44Z" fill="none" stroke="#58b070" stroke-width="1.05"/>
<path d="M134.89 128.25A1.75 1.75 0 1 0 136.02 131.06Q138.02 129.53 140.52 129.24A1.75 1.75 0 1 0 139.39 126.43Q137.39 127.96 134.89 128.25Z" fill="none" stroke="#e08050" stroke-width="1.05"/>
<path d="M39.03 136.51A1.75 1.75 0 1 0 39.57 139.5Q41.84 138.41 44.34 138.62A1.75 1.75 0 1 0 43.8 135.64Q41.53 136.73 39.03 136.51Z" fill="none" stroke="#d09090" stroke-width="1.05"/>
<path d="M89.32 98.03A1.75 1.75 0 1 0 91.16 100.43Q92.68 98.42 95.01 97.47A1.75 1.75 0 1 0 93.16 95.07Q91.64 97.08 89.32 98.03Z" fill="none" stroke="#e080b0" stroke-width="1.05"/>
</g>
<text x="33.5" y="9" font-size="7.5" text-anchor="middle" font-style="italic">(a)</text>
<path d="M201.7 7.9V141.4H273.8" stroke="#222" stroke-width="0.9" fill="none"/>
<path d="M201.7 7.9H273.8" stroke="#222" stroke-width="0.9" fill="none"/>
<path d="M201.7 7.9h2.2M201.7 30.15h2.2M201.7 52.4h2.2M201.7 74.65h2.2M201.7 96.9h2.2M201.7 119.15h2.2M201.7 141.4h2.2" stroke="#222" stroke-width="0.6" fill="none"/>
<text x="197.4" y="11.2" font-size="9.5" text-anchor="end">0</text>
<text x="197.4" y="33.45" font-size="9.5" text-anchor="end">&#8722;1</text>
<text x="197.4" y="55.7" font-size="9.5" text-anchor="end">&#8722;2</text>
<text x="197.4" y="77.95" font-size="9.5" text-anchor="end">&#8722;3</text>
<text x="197.4" y="100.2" font-size="9.5" text-anchor="end">&#8722;4</text>
<text x="197.4" y="122.45" font-size="9.5" text-anchor="end">&#8722;5</text>
<text x="197.4" y="144.7" font-size="9.5" text-anchor="end">&#8722;6</text>
<path d="M201.7 141.4v-2.4M201.7 7.9v2.4M233.7 141.4v-2.4M233.7 7.9v2.4M265.7 141.4v-2.4M265.7 7.9v2.4" stroke="#222" stroke-width="0.6" fill="none"/>
<path d="M211.33 141.4v-1.3M211.33 7.9v1.3M216.97 141.4v-1.3M216.97 7.9v1.3M220.97 141.4v-1.3M220.97 7.9v1.3M224.07 141.4v-1.3M224.07 7.9v1.3M226.6 141.4v-1.3M226.6 7.9v1.3M228.74 141.4v-1.3M228.74 7.9v1.3M230.6 141.4v-1.3M230.6 7.9v1.3M232.24 141.4v-1.3M232.24 7.9v1.3M243.33 141.4v-1.3M243.33 7.9v1.3M248.97 141.4v-1.3M248.97 7.9v1.3M252.97 141.4v-1.3M252.97 7.9v1.3M256.07 141.4v-1.3M256.07 7.9v1.3M258.6 141.4v-1.3M258.6 7.9v1.3M260.74 141.4v-1.3M260.74 7.9v1.3M262.6 141.4v-1.3M262.6 7.9v1.3M264.24 141.4v-1.3M264.24 7.9v1.3" stroke="#222" stroke-width="0.5" fill="none"/>
<text x="201.7" y="153.2" font-size="10.3" text-anchor="middle">1</text>
<text x="233.7" y="153.2" font-size="10.3" text-anchor="middle">10</text>
<text x="265.7" y="153.2" font-size="10.3" text-anchor="middle">100</text>
<text x="265" y="166.5" font-size="11.2" text-anchor="middle">Cluster size <tspan font-style="italic">s</tspan></text>
<text transform="translate(178.5,75.2) rotate(-90)" font-size="9.6" text-anchor="middle">log<tspan font-size="6.5" dy="2">10</tspan><tspan dy="-2" font-style="italic"> p</tspan><tspan font-size="6.5" dy="1.5" font-style="italic">n</tspan><tspan dy="-1.5">(</tspan><tspan font-style="italic">s</tspan>)</text>
<text x="203" y="6" font-size="7.5" text-anchor="middle" font-style="italic">(b)</text>
<text x="247" y="53.3" font-size="10" text-anchor="middle"><tspan font-style="italic">&#981;</tspan> = 0.3</text>
<clipPath id="cb"><rect x="201.7" y="7.9" width="72.10000000000002" height="133.5"/></clipPath>
<g clip-path="url(#cb)">
<polygon points="199.7,4.57 199.7,11.23 205.03,7.9" fill="#d95f02" stroke="#000" stroke-width="0.5"/>
<polygon points="208.21,31.15 208.21,37.01 212.9,34.08" fill="#d95f02" stroke="#000" stroke-width="0.5"/>
<polygon points="213.84,38.79 213.84,44.65 218.53,41.72" fill="#d95f02" stroke="#000" stroke-width="0.5"/>
<polygon points="217.84,44.2 217.84,50.07 222.53,47.13" fill="#d95f02" stroke="#000" stroke-width="0.5"/>
<polygon points="220.94,50.06 220.94,55.93 225.63,52.99" fill="#d95f02" stroke="#000" stroke-width="0.5"/>
<polygon points="223.47,55.25 223.47,61.12 228.17,58.19" fill="#d95f02" stroke="#000" stroke-width="0.5"/>
<polygon points="225.62,60 225.62,65.86 230.31,62.93" fill="#d95f02" stroke="#000" stroke-width="0.5"/>
<polygon points="227.47,64.08 227.47,69.94 232.16,67.01" fill="#d95f02" stroke="#000" stroke-width="0.5"/>
<polygon points="230.57,76.46 230.57,82.33 235.27,79.4" fill="#d95f02" stroke="#000" stroke-width="0.5"/>
<polygon points="231.9,81.88 231.9,87.74 236.59,84.81" fill="#d95f02" stroke="#000" stroke-width="0.5"/>
<polygon points="233.11,87.29 233.11,93.16 237.8,90.23" fill="#d95f02" stroke="#000" stroke-width="0.5"/>
<polygon points="234.22,90.7 234.22,96.57 238.91,93.64" fill="#d95f02" stroke="#000" stroke-width="0.5"/>
<polygon points="235.25,94.78 235.25,100.65 239.94,97.72" fill="#d95f02" stroke="#000" stroke-width="0.5"/>
<polygon points="237.11,100.05 237.11,105.91 241.8,102.98" fill="#d95f02" stroke="#000" stroke-width="0.5"/>
<polygon points="238.74,107.98 238.74,113.85 243.43,110.92" fill="#d95f02" stroke="#000" stroke-width="0.5"/>
<polygon points="239.49,111.62 239.49,117.48 244.19,114.55" fill="#d95f02" stroke="#000" stroke-width="0.5"/>
<polygon points="240.88,117.78 240.88,123.64 245.58,120.71" fill="#d95f02" stroke="#000" stroke-width="0.5"/>
<polygon points="242.97,128.45 242.97,134.32 247.66,131.39" fill="#d95f02" stroke="#000" stroke-width="0.5"/>
<rect x="199.38" y="5.58" width="4.64" height="4.64" fill="#e6ab02" stroke="#000" stroke-width="0.5"/>
<rect x="207.78" y="29.45" width="4.08" height="4.08" fill="#e6ab02" stroke="#000" stroke-width="0.5"/>
<rect x="213.42" y="36.9" width="4.08" height="4.08" fill="#e6ab02" stroke="#000" stroke-width="0.5"/>
<rect x="217.41" y="42.13" width="4.08" height="4.08" fill="#e6ab02" stroke="#000" stroke-width="0.5"/>
<rect x="220.51" y="47.8" width="4.08" height="4.08" fill="#e6ab02" stroke="#000" stroke-width="0.5"/>
<rect x="223.05" y="52.81" width="4.08" height="4.08" fill="#e6ab02" stroke="#000" stroke-width="0.5"/>
<rect x="225.19" y="57.37" width="4.08" height="4.08" fill="#e6ab02" stroke="#000" stroke-width="0.5"/>
<rect x="227.05" y="61.26" width="4.08" height="4.08" fill="#e6ab02" stroke="#000" stroke-width="0.5"/>
<rect x="228.68" y="65.82" width="4.08" height="4.08" fill="#e6ab02" stroke="#000" stroke-width="0.5"/>
<rect x="230.15" y="73.28" width="4.08" height="4.08" fill="#e6ab02" stroke="#000" stroke-width="0.5"/>
<rect x="231.47" y="78.51" width="4.08" height="4.08" fill="#e6ab02" stroke="#000" stroke-width="0.5"/>
<rect x="232.68" y="83.73" width="4.08" height="4.08" fill="#e6ab02" stroke="#000" stroke-width="0.5"/>
<rect x="233.79" y="86.96" width="4.08" height="4.08" fill="#e6ab02" stroke="#000" stroke-width="0.5"/>
<rect x="234.82" y="90.86" width="4.08" height="4.08" fill="#e6ab02" stroke="#000" stroke-width="0.5"/>
<rect x="236.68" y="95.75" width="4.08" height="4.08" fill="#e6ab02" stroke="#000" stroke-width="0.5"/>
<rect x="238.32" y="103.31" width="4.08" height="4.08" fill="#e6ab02" stroke="#000" stroke-width="0.5"/>
<rect x="239.07" y="106.76" width="4.08" height="4.08" fill="#e6ab02" stroke="#000" stroke-width="0.5"/>
<rect x="240.46" y="112.55" width="4.08" height="4.08" fill="#e6ab02" stroke="#000" stroke-width="0.5"/>
<rect x="241.54" y="116.45" width="4.08" height="4.08" fill="#e6ab02" stroke="#000" stroke-width="0.5"/>
<rect x="242.54" y="127.26" width="4.08" height="4.08" fill="#e6ab02" stroke="#000" stroke-width="0.5"/>
<rect x="242.66" y="129.35" width="4.08" height="4.08" fill="#e6ab02" stroke="#000" stroke-width="0.5"/>
<polygon points="203.7,4.57 203.7,11.23 198.36,7.9" fill="#7570b3" stroke="#000" stroke-width="0.5"/>
<polygon points="212.29,28.78 212.29,34.64 207.6,31.71" fill="#7570b3" stroke="#000" stroke-width="0.5"/>
<polygon points="217.93,35.9 217.93,41.76 213.24,38.83" fill="#7570b3" stroke="#000" stroke-width="0.5"/>
<polygon points="221.93,40.79 221.93,46.65 217.23,43.72" fill="#7570b3" stroke="#000" stroke-width="0.5"/>
<polygon points="225.03,46.13 225.03,51.99 220.33,49.06" fill="#7570b3" stroke="#000" stroke-width="0.5"/>
<polygon points="227.56,50.8 227.56,56.67 222.87,53.73" fill="#7570b3" stroke="#000" stroke-width="0.5"/>
<polygon points="229.7,55.03 229.7,60.89 225.01,57.96" fill="#7570b3" stroke="#000" stroke-width="0.5"/>
<polygon points="231.56,58.59 231.56,64.45 226.87,61.52" fill="#7570b3" stroke="#000" stroke-width="0.5"/>
<polygon points="233.2,62.82 233.2,68.68 228.5,65.75" fill="#7570b3" stroke="#000" stroke-width="0.5"/>
<polygon points="234.66,69.94 234.66,75.8 229.97,72.87" fill="#7570b3" stroke="#000" stroke-width="0.5"/>
<polygon points="235.98,74.83 235.98,80.7 231.29,77.77" fill="#7570b3" stroke="#000" stroke-width="0.5"/>
<polygon points="237.19,79.73 237.19,85.59 232.5,82.66" fill="#7570b3" stroke="#000" stroke-width="0.5"/>
<polygon points="238.31,82.62 238.31,88.49 233.61,85.55" fill="#7570b3" stroke="#000" stroke-width="0.5"/>
<polygon points="239.34,86.18 239.34,92.05 234.64,89.11" fill="#7570b3" stroke="#000" stroke-width="0.5"/>
<polygon points="241.19,90.41 241.19,96.27 236.5,93.34" fill="#7570b3" stroke="#000" stroke-width="0.5"/>
<polygon points="242.83,97.31 242.83,103.17 238.14,100.24" fill="#7570b3" stroke="#000" stroke-width="0.5"/>
<polygon points="243.58,100.42 243.58,106.29 238.89,103.35" fill="#7570b3" stroke="#000" stroke-width="0.5"/>
<polygon points="244.97,105.54 244.97,111.4 240.28,108.47" fill="#7570b3" stroke="#000" stroke-width="0.5"/>
<polygon points="246.05,108.88 246.05,114.74 241.36,111.81" fill="#7570b3" stroke="#000" stroke-width="0.5"/>
<polygon points="247.06,119.11 247.06,124.98 242.36,122.04" fill="#7570b3" stroke="#000" stroke-width="0.5"/>
<polygon points="247.17,128.45 247.17,134.32 242.48,131.39" fill="#7570b3" stroke="#000" stroke-width="0.5"/>
<polygon points="198.36,9.9 205.03,9.9 201.7,4.57" fill="#e7298a" stroke="#000" stroke-width="0.5"/>
<polygon points="208.15,34.13 214.01,34.13 211.08,29.44" fill="#e7298a" stroke="#000" stroke-width="0.5"/>
<polygon points="213.78,41.25 219.65,41.25 216.71,36.56" fill="#e7298a" stroke="#000" stroke-width="0.5"/>
<polygon points="217.78,46.15 223.64,46.15 220.71,41.46" fill="#e7298a" stroke="#000" stroke-width="0.5"/>
<polygon points="220.88,51.49 226.74,51.49 223.81,46.8" fill="#e7298a" stroke="#000" stroke-width="0.5"/>
<polygon points="223.41,56.16 229.28,56.16 226.35,51.47" fill="#e7298a" stroke="#000" stroke-width="0.5"/>
<polygon points="225.56,60.39 231.42,60.39 228.49,55.7" fill="#e7298a" stroke="#000" stroke-width="0.5"/>
<polygon points="227.41,63.95 233.28,63.95 230.34,59.26" fill="#e7298a" stroke="#000" stroke-width="0.5"/>
<polygon points="229.05,68.18 234.91,68.18 231.98,63.49" fill="#e7298a" stroke="#000" stroke-width="0.5"/>
<polygon points="230.51,75.3 236.38,75.3 233.45,70.61" fill="#e7298a" stroke="#000" stroke-width="0.5"/>
<polygon points="231.84,80.19 237.7,80.19 234.77,75.5" fill="#e7298a" stroke="#000" stroke-width="0.5"/>
<polygon points="233.05,85.09 238.91,85.09 235.98,80.4" fill="#e7298a" stroke="#000" stroke-width="0.5"/>
<polygon points="234.16,87.98 240.02,87.98 237.09,83.29" fill="#e7298a" stroke="#000" stroke-width="0.5"/>
<polygon points="235.19,91.54 241.05,91.54 238.12,86.85" fill="#e7298a" stroke="#000" stroke-width="0.5"/>
<polygon points="238.68,102.66 244.55,102.66 241.61,97.97" fill="#e7298a" stroke="#000" stroke-width="0.5"/>
<polygon points="239.43,105.78 245.3,105.78 242.37,101.09" fill="#e7298a" stroke="#000" stroke-width="0.5"/>
<polygon points="240.82,110.9 246.69,110.9 243.76,106.2" fill="#e7298a" stroke="#000" stroke-width="0.5"/>
<polygon points="241.91,114.23 247.77,114.23 244.84,109.54" fill="#e7298a" stroke="#000" stroke-width="0.5"/>
<polygon points="242.91,124.47 248.77,124.47 245.84,119.78" fill="#e7298a" stroke="#000" stroke-width="0.5"/>
<polygon points="243.02,133.15 248.89,133.15 245.95,128.45" fill="#e7298a" stroke="#000" stroke-width="0.5"/>
<polygon points="198.36,5.9 205.03,5.9 201.7,11.23" fill="#1b9e77" stroke="#000" stroke-width="0.5"/>
<polygon points="207.6,31.73 213.47,31.73 210.53,36.42" fill="#1b9e77" stroke="#000" stroke-width="0.5"/>
<polygon points="213.24,38.85 219.1,38.85 216.17,43.54" fill="#1b9e77" stroke="#000" stroke-width="0.5"/>
<polygon points="217.23,43.74 223.1,43.74 220.17,48.43" fill="#1b9e77" stroke="#000" stroke-width="0.5"/>
<polygon points="220.33,49.08 226.2,49.08 223.27,53.77" fill="#1b9e77" stroke="#000" stroke-width="0.5"/>
<polygon points="222.87,53.76 228.73,53.76 225.8,58.45" fill="#1b9e77" stroke="#000" stroke-width="0.5"/>
<polygon points="225.01,57.98 230.88,57.98 227.94,62.67" fill="#1b9e77" stroke="#000" stroke-width="0.5"/>
<polygon points="226.87,61.54 232.73,61.54 229.8,66.23" fill="#1b9e77" stroke="#000" stroke-width="0.5"/>
<polygon points="228.5,65.77 234.37,65.77 231.44,70.46" fill="#1b9e77" stroke="#000" stroke-width="0.5"/>
<polygon points="229.97,72.89 235.83,72.89 232.9,77.58" fill="#1b9e77" stroke="#000" stroke-width="0.5"/>
<polygon points="231.29,77.79 237.16,77.79 234.22,82.48" fill="#1b9e77" stroke="#000" stroke-width="0.5"/>
<polygon points="232.5,82.68 238.37,82.68 235.43,87.37" fill="#1b9e77" stroke="#000" stroke-width="0.5"/>
<polygon points="233.61,85.57 239.48,85.57 236.55,90.27" fill="#1b9e77" stroke="#000" stroke-width="0.5"/>
<polygon points="234.64,89.13 240.51,89.13 237.58,93.83" fill="#1b9e77" stroke="#000" stroke-width="0.5"/>
<polygon points="236.5,93.36 242.36,93.36 239.43,98.05" fill="#1b9e77" stroke="#000" stroke-width="0.5"/>
<polygon points="238.14,100.26 244,100.26 241.07,104.95" fill="#1b9e77" stroke="#000" stroke-width="0.5"/>
<polygon points="238.89,103.37 244.75,103.37 241.82,108.07" fill="#1b9e77" stroke="#000" stroke-width="0.5"/>
<polygon points="240.28,108.49 246.14,108.49 243.21,113.18" fill="#1b9e77" stroke="#000" stroke-width="0.5"/>
<polygon points="241.36,111.83 247.23,111.83 244.29,116.52" fill="#1b9e77" stroke="#000" stroke-width="0.5"/>
<polygon points="242.36,122.06 248.23,122.06 245.3,126.76" fill="#1b9e77" stroke="#000" stroke-width="0.5"/>
<polygon points="242.48,129.63 248.34,129.63 245.41,134.32" fill="#1b9e77" stroke="#000" stroke-width="0.5"/>
<circle cx="201.7" cy="7.9" r="2.9" fill="#66a61e" stroke="#000" stroke-width="0.5"/>
<circle cx="211.33" cy="26.81" r="2.55" fill="#66a61e" stroke="#000" stroke-width="0.5"/>
<circle cx="216.97" cy="33.93" r="2.55" fill="#66a61e" stroke="#000" stroke-width="0.5"/>
<circle cx="220.97" cy="38.83" r="2.55" fill="#66a61e" stroke="#000" stroke-width="0.5"/>
<circle cx="224.07" cy="44.17" r="2.55" fill="#66a61e" stroke="#000" stroke-width="0.5"/>
<circle cx="226.6" cy="48.84" r="2.55" fill="#66a61e" stroke="#000" stroke-width="0.5"/>
<circle cx="228.74" cy="53.07" r="2.55" fill="#66a61e" stroke="#000" stroke-width="0.5"/>
<circle cx="230.6" cy="56.63" r="2.55" fill="#66a61e" stroke="#000" stroke-width="0.5"/>
<circle cx="232.24" cy="60.85" r="2.55" fill="#66a61e" stroke="#000" stroke-width="0.5"/>
<circle cx="233.7" cy="67.98" r="2.55" fill="#66a61e" stroke="#000" stroke-width="0.5"/>
<circle cx="235.02" cy="72.87" r="2.55" fill="#66a61e" stroke="#000" stroke-width="0.5"/>
<circle cx="236.23" cy="77.77" r="2.55" fill="#66a61e" stroke="#000" stroke-width="0.5"/>
<circle cx="237.35" cy="80.66" r="2.55" fill="#66a61e" stroke="#000" stroke-width="0.5"/>
<circle cx="238.38" cy="84.22" r="2.55" fill="#66a61e" stroke="#000" stroke-width="0.5"/>
<circle cx="240.23" cy="88.45" r="2.55" fill="#66a61e" stroke="#000" stroke-width="0.5"/>
<circle cx="241.87" cy="95.34" r="2.55" fill="#66a61e" stroke="#000" stroke-width="0.5"/>
<circle cx="242.62" cy="98.46" r="2.55" fill="#66a61e" stroke="#000" stroke-width="0.5"/>
<circle cx="244.01" cy="103.58" r="2.55" fill="#66a61e" stroke="#000" stroke-width="0.5"/>
<circle cx="245.09" cy="106.91" r="2.55" fill="#66a61e" stroke="#000" stroke-width="0.5"/>
<circle cx="246.1" cy="117.15" r="2.55" fill="#66a61e" stroke="#000" stroke-width="0.5"/>
<circle cx="246.21" cy="128.05" r="2.55" fill="#66a61e" stroke="#000" stroke-width="0.5"/>
<polygon points="243.44,113.82 249.42,113.82 246.43,109.04" fill="#e7298a" stroke="#000" stroke-width="0.5"/>
<polygon points="244.51,124.06 250.49,124.06 247.5,119.28" fill="#e7298a" stroke="#000" stroke-width="0.5"/>
<polygon points="247.95,119.28 247.95,125.25 243.16,122.27" fill="#7570b3" stroke="#000" stroke-width="0.5"/>
<polygon points="241.67,128.48 247.65,128.48 244.66,133.27" fill="#1b9e77" stroke="#000" stroke-width="0.5"/>
<polygon points="244.77,128.48 250.75,128.48 247.76,133.27" fill="#1b9e77" stroke="#000" stroke-width="0.5"/>
<circle cx="246.1" cy="128.05" r="2.6" fill="#66a61e" stroke="#000" stroke-width="0.5"/>
</g>
<rect x="273.8" y="8.3" width="63.6" height="64.3" fill="#fff" stroke="#222" stroke-width="0.9"/>
<path d="M273.8 72.6v-2M273.8 8.3v2M289.7 72.6v-2M289.7 8.3v2M305.6 72.6v-2M305.6 8.3v2M321.5 72.6v-2M321.5 8.3v2" stroke="#222" stroke-width="0.6" fill="none"/>
<path d="M278.59 72.6v-1.1M278.59 8.3v1.1M281.39 72.6v-1.1M281.39 8.3v1.1M283.37 72.6v-1.1M283.37 8.3v1.1M284.91 72.6v-1.1M284.91 8.3v1.1M286.17 72.6v-1.1M286.17 8.3v1.1M287.24 72.6v-1.1M287.24 8.3v1.1M288.16 72.6v-1.1M288.16 8.3v1.1M288.97 72.6v-1.1M288.97 8.3v1.1M294.49 72.6v-1.1M294.49 8.3v1.1M297.29 72.6v-1.1M297.29 8.3v1.1M299.27 72.6v-1.1M299.27 8.3v1.1M300.81 72.6v-1.1M300.81 8.3v1.1M302.07 72.6v-1.1M302.07 8.3v1.1M303.14 72.6v-1.1M303.14 8.3v1.1M304.06 72.6v-1.1M304.06 8.3v1.1M304.87 72.6v-1.1M304.87 8.3v1.1M310.39 72.6v-1.1M310.39 8.3v1.1M313.19 72.6v-1.1M313.19 8.3v1.1M315.17 72.6v-1.1M315.17 8.3v1.1M316.71 72.6v-1.1M316.71 8.3v1.1M317.97 72.6v-1.1M317.97 8.3v1.1M319.04 72.6v-1.1M319.04 8.3v1.1M319.96 72.6v-1.1M319.96 8.3v1.1M320.77 72.6v-1.1M320.77 8.3v1.1M326.29 72.6v-1.1M326.29 8.3v1.1M329.09 72.6v-1.1M329.09 8.3v1.1M331.07 72.6v-1.1M331.07 8.3v1.1M332.61 72.6v-1.1M332.61 8.3v1.1M333.87 72.6v-1.1M333.87 8.3v1.1M334.94 72.6v-1.1M334.94 8.3v1.1M335.86 72.6v-1.1M335.86 8.3v1.1M336.67 72.6v-1.1M336.67 8.3v1.1" stroke="#222" stroke-width="0.45" fill="none"/>
<path d="M273.8 8.3h2M337.4 8.3h-2M273.8 18.95h2M337.4 18.95h-2M273.8 29.6h2M337.4 29.6h-2M273.8 40.25h2M337.4 40.25h-2M273.8 50.9h2M337.4 50.9h-2M273.8 61.55h2M337.4 61.55h-2" stroke="#222" stroke-width="0.6" fill="none"/>
<text x="340.4" y="11.1" font-size="8" text-anchor="start">0</text>
<text x="340.4" y="21.75" font-size="8" text-anchor="start">&#8722;1</text>
<text x="340.4" y="32.4" font-size="8" text-anchor="start">&#8722;2</text>
<text x="340.4" y="43.05" font-size="8" text-anchor="start">&#8722;3</text>
<text x="340.4" y="53.7" font-size="8" text-anchor="start">&#8722;4</text>
<text x="340.4" y="64.35" font-size="8" text-anchor="start">&#8722;5</text>
<text x="318" y="61.6" font-size="8.5" text-anchor="middle"><tspan font-style="italic">&#981;</tspan> = 0.1</text>
<clipPath id="ci8"><rect x="273.8" y="8.3" width="63.6" height="64.3"/></clipPath>
<g clip-path="url(#ci8)">
<polygon points="272.28,5.77 272.28,10.83 276.33,8.3" fill="#d95f02" stroke="#000" stroke-width="0.5"/>
<rect x="272.04" y="6.54" width="3.52" height="3.52" fill="#e6ab02" stroke="#000" stroke-width="0.5"/>
<polygon points="275.32,5.77 275.32,10.83 271.27,8.3" fill="#7570b3" stroke="#000" stroke-width="0.5"/>
<polygon points="271.27,9.82 276.33,9.82 273.8,5.77" fill="#e7298a" stroke="#000" stroke-width="0.5"/>
<polygon points="271.27,6.78 276.33,6.78 273.8,10.83" fill="#1b9e77" stroke="#000" stroke-width="0.5"/>
<circle cx="273.8" cy="8.3" r="2.2" fill="#66a61e" stroke="#000" stroke-width="0.5"/>
<rect x="276.5" y="24.7" width="4" height="4" fill="#e6ab02" stroke="#000" stroke-width="0.5"/>
<circle cx="278.5" cy="29.2" r="2.5" fill="#66a61e" stroke="#000" stroke-width="0.5"/>
<polygon points="276.07,30.42 276.07,36.17 280.68,33.3" fill="#d95f02" stroke="#000" stroke-width="0.5"/>
<polygon points="281.23,32.12 281.23,37.88 276.62,35" fill="#7570b3" stroke="#000" stroke-width="0.5"/>
<polygon points="274.93,38.83 280.68,38.83 277.8,34.23" fill="#e7298a" stroke="#000" stroke-width="0.5"/>
<polygon points="274.93,39.07 280.68,39.07 277.8,43.67" fill="#1b9e77" stroke="#000" stroke-width="0.5"/>
<circle cx="281.2" cy="41.25" r="2.5" fill="#66a61e" stroke="#000" stroke-width="0.5"/>
<rect x="281.7" y="43.8" width="4" height="4" fill="#e6ab02" stroke="#000" stroke-width="0.5"/>
<polygon points="283.73,44.62 283.73,50.38 279.12,47.5" fill="#7570b3" stroke="#000" stroke-width="0.5"/>
<polygon points="278.57,48.83 278.57,54.58 283.18,51.7" fill="#d95f02" stroke="#000" stroke-width="0.5"/>
<polygon points="286.23,49.12 286.23,54.88 281.62,52" fill="#7570b3" stroke="#000" stroke-width="0.5"/>
<polygon points="277.43,57.52 283.18,57.52 280.3,52.92" fill="#e7298a" stroke="#000" stroke-width="0.5"/>
<circle cx="283.7" cy="55.8" r="2.5" fill="#66a61e" stroke="#000" stroke-width="0.5"/>
<polygon points="287.93,54.62 287.93,60.38 283.32,57.5" fill="#7570b3" stroke="#000" stroke-width="0.5"/>
</g>
<path d="M328 72.6V78.3M325.5 75.5h2.5" stroke="#222" stroke-width="0.7"/>
<rect x="273.8" y="78.4" width="63.6" height="63" fill="#fff" stroke="#222" stroke-width="0.9"/>
<path d="M273.8 141.4v-2M273.8 78.4v2M289.7 141.4v-2M289.7 78.4v2M305.6 141.4v-2M305.6 78.4v2M321.5 141.4v-2M321.5 78.4v2" stroke="#222" stroke-width="0.6" fill="none"/>
<path d="M278.59 141.4v-1.1M278.59 78.4v1.1M281.39 141.4v-1.1M281.39 78.4v1.1M283.37 141.4v-1.1M283.37 78.4v1.1M284.91 141.4v-1.1M284.91 78.4v1.1M286.17 141.4v-1.1M286.17 78.4v1.1M287.24 141.4v-1.1M287.24 78.4v1.1M288.16 141.4v-1.1M288.16 78.4v1.1M288.97 141.4v-1.1M288.97 78.4v1.1M294.49 141.4v-1.1M294.49 78.4v1.1M297.29 141.4v-1.1M297.29 78.4v1.1M299.27 141.4v-1.1M299.27 78.4v1.1M300.81 141.4v-1.1M300.81 78.4v1.1M302.07 141.4v-1.1M302.07 78.4v1.1M303.14 141.4v-1.1M303.14 78.4v1.1M304.06 141.4v-1.1M304.06 78.4v1.1M304.87 141.4v-1.1M304.87 78.4v1.1M310.39 141.4v-1.1M310.39 78.4v1.1M313.19 141.4v-1.1M313.19 78.4v1.1M315.17 141.4v-1.1M315.17 78.4v1.1M316.71 141.4v-1.1M316.71 78.4v1.1M317.97 141.4v-1.1M317.97 78.4v1.1M319.04 141.4v-1.1M319.04 78.4v1.1M319.96 141.4v-1.1M319.96 78.4v1.1M320.77 141.4v-1.1M320.77 78.4v1.1M326.29 141.4v-1.1M326.29 78.4v1.1M329.09 141.4v-1.1M329.09 78.4v1.1M331.07 141.4v-1.1M331.07 78.4v1.1M332.61 141.4v-1.1M332.61 78.4v1.1M333.87 141.4v-1.1M333.87 78.4v1.1M334.94 141.4v-1.1M334.94 78.4v1.1M335.86 141.4v-1.1M335.86 78.4v1.1M336.67 141.4v-1.1M336.67 78.4v1.1" stroke="#222" stroke-width="0.45" fill="none"/>
<path d="M273.8 78.4h2M337.4 78.4h-2M273.8 89.05h2M337.4 89.05h-2M273.8 99.7h2M337.4 99.7h-2M273.8 110.35h2M337.4 110.35h-2M273.8 121h2M337.4 121h-2M273.8 131.65h2M337.4 131.65h-2" stroke="#222" stroke-width="0.6" fill="none"/>
<text x="340.4" y="81.2" font-size="8" text-anchor="start">0</text>
<text x="340.4" y="91.85" font-size="8" text-anchor="start">&#8722;1</text>
<text x="340.4" y="102.5" font-size="8" text-anchor="start">&#8722;2</text>
<text x="340.4" y="113.15" font-size="8" text-anchor="start">&#8722;3</text>
<text x="340.4" y="123.8" font-size="8" text-anchor="start">&#8722;4</text>
<text x="340.4" y="134.45" font-size="8" text-anchor="start">&#8722;5</text>
<text x="318" y="130.4" font-size="8.5" text-anchor="middle"><tspan font-style="italic">&#981;</tspan> = 0.5</text>
<clipPath id="ci78"><rect x="273.8" y="78.4" width="63.6" height="63"/></clipPath>
<g clip-path="url(#ci78)">
<polygon points="272.28,75.87 272.28,80.93 276.33,78.4" fill="#d95f02" stroke="#000" stroke-width="0.5"/>
<rect x="272.04" y="76.64" width="3.52" height="3.52" fill="#e6ab02" stroke="#000" stroke-width="0.5"/>
<polygon points="275.32,75.87 275.32,80.93 271.27,78.4" fill="#7570b3" stroke="#000" stroke-width="0.5"/>
<polygon points="271.27,79.92 276.33,79.92 273.8,75.87" fill="#e7298a" stroke="#000" stroke-width="0.5"/>
<polygon points="271.27,76.88 276.33,76.88 273.8,80.93" fill="#1b9e77" stroke="#000" stroke-width="0.5"/>
<circle cx="273.8" cy="78.4" r="2.2" fill="#66a61e" stroke="#000" stroke-width="0.5"/>
<rect x="276.4" y="87" width="4" height="4" fill="#e6ab02" stroke="#000" stroke-width="0.5"/>
<polygon points="275.07,92.53 275.07,98.28 279.68,95.4" fill="#d95f02" stroke="#000" stroke-width="0.5"/>
<circle cx="278.4" cy="91.8" r="2.5" fill="#66a61e" stroke="#000" stroke-width="0.5"/>
<rect x="280.4" y="91.4" width="4" height="4" fill="#e6ab02" stroke="#000" stroke-width="0.5"/>
<polygon points="277.12,96.88 282.88,96.88 280,101.47" fill="#1b9e77" stroke="#000" stroke-width="0.5"/>
<circle cx="281.2" cy="96.2" r="2.5" fill="#66a61e" stroke="#000" stroke-width="0.5"/>
<polygon points="282.12,98.12 282.12,103.88 277.52,101" fill="#7570b3" stroke="#000" stroke-width="0.5"/>
<rect x="284.4" y="100.2" width="4" height="4" fill="#e6ab02" stroke="#000" stroke-width="0.5"/>
<circle cx="283.2" cy="99.8" r="2.5" fill="#66a61e" stroke="#000" stroke-width="0.5"/>
<polygon points="277.88,100.92 277.88,106.67 282.48,103.8" fill="#d95f02" stroke="#000" stroke-width="0.5"/>
<polygon points="279.52,105.68 285.27,105.68 282.4,110.28" fill="#1b9e77" stroke="#000" stroke-width="0.5"/>
<rect x="285.6" y="105.4" width="4" height="4" fill="#e6ab02" stroke="#000" stroke-width="0.5"/>
<circle cx="284.8" cy="104.6" r="2.5" fill="#66a61e" stroke="#000" stroke-width="0.5"/>
<polygon points="280.27,107.72 280.27,113.47 284.88,110.6" fill="#d95f02" stroke="#000" stroke-width="0.5"/>
<polygon points="281.52,113.68 287.27,113.68 284.4,118.28" fill="#1b9e77" stroke="#000" stroke-width="0.5"/>
<polygon points="287.73,114.12 287.73,119.88 283.12,117" fill="#7570b3" stroke="#000" stroke-width="0.5"/>
<circle cx="286.4" cy="111.4" r="2.5" fill="#66a61e" stroke="#000" stroke-width="0.5"/>
<circle cx="292" cy="113.4" r="2.5" fill="#66a61e" stroke="#000" stroke-width="0.5"/>
<circle cx="288" cy="113.8" r="2.5" fill="#66a61e" stroke="#000" stroke-width="0.5"/>
<circle cx="290.4" cy="117.4" r="2.5" fill="#66a61e" stroke="#000" stroke-width="0.5"/>
<rect x="335.7" y="100" width="4" height="4" fill="#d95f02" stroke="#000" stroke-width="0.5"/>
<rect x="335.7" y="101" width="4" height="4" fill="#e6ab02" stroke="#000" stroke-width="0.5"/>
<polygon points="334.82,102.78 340.57,102.78 337.7,107.38" fill="#1b9e77" stroke="#000" stroke-width="0.5"/>
<circle cx="337.7" cy="107.1" r="2.5" fill="#66a61e" stroke="#000" stroke-width="0.5"/>
<circle cx="337.7" cy="111.7" r="2.5" fill="#66a61e" stroke="#000" stroke-width="0.5"/>
<circle cx="337.7" cy="116.3" r="2.5" fill="#66a61e" stroke="#000" stroke-width="0.5"/>
</g>
<text x="273.8" y="6.2" font-size="7.5" text-anchor="middle">1</text>
<text x="289.7" y="6.2" font-size="7.5" text-anchor="middle">10</text>
<text x="305.6" y="6.2" font-size="7.5" text-anchor="middle">100</text>
<text x="321.5" y="6.2" font-size="7.5" text-anchor="middle">1000</text>
<text x="297.7" y="153.6" font-size="10.3" text-anchor="middle">1000</text>
<rect x="31.7" y="181.1" width="127.5" height="133.1" fill="none" stroke="#222" stroke-width="0.9"/>
<path d="M31.7 314.2v-2.2M31.7 181.1v2.2M52.95 314.2v-2.2M52.95 181.1v2.2M74.2 314.2v-2.2M74.2 181.1v2.2M95.45 314.2v-2.2M95.45 181.1v2.2M116.7 314.2v-2.2M116.7 181.1v2.2M137.95 314.2v-2.2M137.95 181.1v2.2M159.2 314.2v-2.2M159.2 181.1v2.2" stroke="#222" stroke-width="0.6" fill="none"/>
<path d="M31.7 314.2h2.2M159.2 314.2h-2.2M31.7 287.58h2.2M159.2 287.58h-2.2M31.7 260.96h2.2M159.2 260.96h-2.2M31.7 234.34h2.2M159.2 234.34h-2.2M31.7 207.72h2.2M159.2 207.72h-2.2M31.7 181.1h2.2M159.2 181.1h-2.2" stroke="#222" stroke-width="0.6" fill="none"/>
<text x="28.5" y="317.7" font-size="10" text-anchor="end">0.0</text>
<text x="28.5" y="291.08" font-size="10" text-anchor="end">0.2</text>
<text x="28.5" y="264.46" font-size="10" text-anchor="end">0.4</text>
<text x="28.5" y="237.84" font-size="10" text-anchor="end">0.6</text>
<text x="28.5" y="211.22" font-size="10" text-anchor="end">0.8</text>
<text x="28.5" y="184.6" font-size="10" text-anchor="end">1.0</text>
<text x="31.7" y="325.7" font-size="10" text-anchor="middle">0.0</text>
<text x="52.95" y="325.7" font-size="10" text-anchor="middle">0.1</text>
<text x="74.2" y="325.7" font-size="10" text-anchor="middle">0.2</text>
<text x="95.45" y="325.7" font-size="10" text-anchor="middle">0.3</text>
<text x="116.7" y="325.7" font-size="10" text-anchor="middle">0.4</text>
<text x="137.95" y="325.7" font-size="10" text-anchor="middle">0.5</text>
<text x="159.2" y="325.7" font-size="10" text-anchor="middle">0.6</text>
<text x="95.4" y="338" font-size="10" text-anchor="middle" font-style="italic">&#981;</text>
<text transform="translate(7.8,248.3) rotate(-90)" font-size="11.5" text-anchor="middle"><tspan font-style="italic">p</tspan><tspan font-size="7.5" dy="1.8" font-style="italic">n</tspan><tspan dy="-1.8">(</tspan><tspan font-style="italic">s</tspan><tspan dx="2.2">=</tspan><tspan dx="2.2">1)</tspan></text>
<text x="34" y="179.5" font-size="7.5" text-anchor="middle" font-style="italic">(c)</text>
<path d="M52.95 181.1 L74.2 184.83 L95.45 223.69 L116.7 274.27 L137.95 314.2" stroke="#1b9e77" stroke-width="1.25" fill="none"/>
<path d="M52.95 181.1 L74.2 197.87 L95.45 225.29 L116.7 287.05 L137.95 314.2" stroke="#d95f02" stroke-width="1.25" fill="none"/>
<path d="M52.95 181.1 L74.2 200.13 L95.45 243.66 L116.7 295.03 L137.95 314.2" stroke="#7570b3" stroke-width="1.25" fill="none"/>
<path d="M52.95 181.1 L74.2 201.33 L95.45 252.97 L116.7 296.9 L137.95 314.2" stroke="#e7298a" stroke-width="1.25" fill="none"/>
<path d="M52.95 184.43 L74.2 213.84 L95.45 262.29 L116.7 299.56 L137.95 314.2" stroke="#66a61e" stroke-width="1.25" fill="none"/>
<path d="M52.95 184.43 L74.2 213.84 L95.45 250.31 L116.7 300.36 L137.95 314.2" stroke="#e6ab02" stroke-width="1.25" fill="none"/>
<polygon points="49.62,179.1 56.29,179.1 52.95,184.44" fill="#1b9e77" stroke="#000" stroke-width="0.5"/>
<polygon points="70.87,182.83 77.53,182.83 74.2,188.16" fill="#1b9e77" stroke="#000" stroke-width="0.5"/>
<polygon points="92.12,221.69 98.78,221.69 95.45,227.03" fill="#1b9e77" stroke="#000" stroke-width="0.5"/>
<polygon points="113.37,272.27 120.03,272.27 116.7,277.6" fill="#1b9e77" stroke="#000" stroke-width="0.5"/>
<polygon points="134.61,312.2 141.28,312.2 137.95,317.53" fill="#1b9e77" stroke="#000" stroke-width="0.5"/>
<polygon points="50.95,177.76 50.95,184.44 56.29,181.1" fill="#d95f02" stroke="#000" stroke-width="0.5"/>
<polygon points="72.2,194.54 72.2,201.21 77.53,197.87" fill="#d95f02" stroke="#000" stroke-width="0.5"/>
<polygon points="93.45,221.95 93.45,228.62 98.78,225.29" fill="#d95f02" stroke="#000" stroke-width="0.5"/>
<polygon points="114.7,283.71 114.7,290.38 120.03,287.05" fill="#d95f02" stroke="#000" stroke-width="0.5"/>
<polygon points="135.95,310.87 135.95,317.53 141.28,314.2" fill="#d95f02" stroke="#000" stroke-width="0.5"/>
<polygon points="54.95,177.76 54.95,184.44 49.62,181.1" fill="#7570b3" stroke="#000" stroke-width="0.5"/>
<polygon points="76.2,196.8 76.2,203.47 70.87,200.13" fill="#7570b3" stroke="#000" stroke-width="0.5"/>
<polygon points="97.45,240.32 97.45,246.99 92.12,243.66" fill="#7570b3" stroke="#000" stroke-width="0.5"/>
<polygon points="118.7,291.7 118.7,298.37 113.37,295.03" fill="#7570b3" stroke="#000" stroke-width="0.5"/>
<polygon points="139.95,310.87 139.95,317.53 134.61,314.2" fill="#7570b3" stroke="#000" stroke-width="0.5"/>
<polygon points="49.62,183.1 56.29,183.1 52.95,177.76" fill="#e7298a" stroke="#000" stroke-width="0.5"/>
<polygon points="70.87,203.33 77.53,203.33 74.2,198" fill="#e7298a" stroke="#000" stroke-width="0.5"/>
<polygon points="92.12,254.97 98.78,254.97 95.45,249.64" fill="#e7298a" stroke="#000" stroke-width="0.5"/>
<polygon points="113.37,298.9 120.03,298.9 116.7,293.56" fill="#e7298a" stroke="#000" stroke-width="0.5"/>
<polygon points="134.61,316.2 141.28,316.2 137.95,310.87" fill="#e7298a" stroke="#000" stroke-width="0.5"/>
<circle cx="52.95" cy="184.43" r="2.9" fill="#66a61e" stroke="#000" stroke-width="0.5"/>
<circle cx="74.2" cy="213.84" r="2.9" fill="#66a61e" stroke="#000" stroke-width="0.5"/>
<circle cx="95.45" cy="262.29" r="2.9" fill="#66a61e" stroke="#000" stroke-width="0.5"/>
<circle cx="116.7" cy="299.56" r="2.9" fill="#66a61e" stroke="#000" stroke-width="0.5"/>
<circle cx="137.95" cy="314.2" r="2.9" fill="#66a61e" stroke="#000" stroke-width="0.5"/>
<rect x="50.63" y="182.11" width="4.64" height="4.64" fill="#e6ab02" stroke="#000" stroke-width="0.5"/>
<rect x="71.88" y="211.52" width="4.64" height="4.64" fill="#e6ab02" stroke="#000" stroke-width="0.5"/>
<rect x="93.13" y="247.99" width="4.64" height="4.64" fill="#e6ab02" stroke="#000" stroke-width="0.5"/>
<rect x="114.38" y="298.04" width="4.64" height="4.64" fill="#e6ab02" stroke="#000" stroke-width="0.5"/>
<rect x="135.63" y="311.88" width="4.64" height="4.64" fill="#e6ab02" stroke="#000" stroke-width="0.5"/>
<path d="M39 240.3H56.5" stroke="#1b9e77" stroke-width="1.25"/>
<polygon points="44.46,238.3 51.13,238.3 47.8,243.64" fill="#1b9e77" stroke="#000" stroke-width="0.5"/>
<text x="62" y="243.7" font-size="9.8" text-anchor="start"><tspan font-style="italic">&#947;</tspan><tspan dx="-0.36em">&#729;</tspan><tspan dx="3">= <tspan dx="0.5">3/</tspan><tspan font-style="italic">s</tspan></tspan></text>
<path d="M39 252.8H56.5" stroke="#d95f02" stroke-width="1.25"/>
<polygon points="45.8,249.47 45.8,256.13 51.13,252.8" fill="#d95f02" stroke="#000" stroke-width="0.5"/>
<text x="62" y="256.2" font-size="9.8" text-anchor="start"><tspan font-style="italic">&#947;</tspan><tspan dx="-0.36em">&#729;</tspan><tspan dx="3">= <tspan dx="0.5">10/</tspan><tspan font-style="italic">s</tspan></tspan></text>
<path d="M39 265.3H56.5" stroke="#7570b3" stroke-width="1.25"/>
<polygon points="49.8,261.97 49.8,268.63 44.46,265.3" fill="#7570b3" stroke="#000" stroke-width="0.5"/>
<text x="62" y="268.7" font-size="9.8" text-anchor="start"><tspan font-style="italic">&#947;</tspan><tspan dx="-0.36em">&#729;</tspan><tspan dx="3">= <tspan dx="0.5">30/</tspan><tspan font-style="italic">s</tspan></tspan></text>
<path d="M39 277.8H56.5" stroke="#e7298a" stroke-width="1.25"/>
<polygon points="44.46,279.8 51.13,279.8 47.8,274.47" fill="#e7298a" stroke="#000" stroke-width="0.5"/>
<text x="62" y="281.2" font-size="9.8" text-anchor="start"><tspan font-style="italic">&#947;</tspan><tspan dx="-0.36em">&#729;</tspan><tspan dx="3">= <tspan dx="0.5">100/</tspan><tspan font-style="italic">s</tspan></tspan></text>
<path d="M39 290.3H56.5" stroke="#66a61e" stroke-width="1.25"/>
<circle cx="47.8" cy="290.3" r="2.9" fill="#66a61e" stroke="#000" stroke-width="0.5"/>
<text x="62" y="293.7" font-size="9.8" text-anchor="start"><tspan font-style="italic">&#947;</tspan><tspan dx="-0.36em">&#729;</tspan><tspan dx="3">= <tspan dx="0.5">300/</tspan><tspan font-style="italic">s</tspan></tspan></text>
<path d="M39 302.8H56.5" stroke="#e6ab02" stroke-width="1.25"/>
<rect x="45.48" y="300.48" width="4.64" height="4.64" fill="#e6ab02" stroke="#000" stroke-width="0.5"/>
<text x="62" y="306.2" font-size="9.8" text-anchor="start"><tspan font-style="italic">&#947;</tspan><tspan dx="-0.36em">&#729;</tspan><tspan dx="3">= <tspan dx="0.5">1000/</tspan><tspan font-style="italic">s</tspan></tspan></text>
<rect x="201.6" y="180.7" width="126.8" height="133.3" fill="none" stroke="#222" stroke-width="0.9"/>
<path d="M201.6 314v-2.4M201.6 180.7v2.4M243.87 314v-2.4M243.87 180.7v2.4M286.14 314v-2.4M286.14 180.7v2.4M328.41 314v-2.4M328.41 180.7v2.4" stroke="#222" stroke-width="0.6" fill="none"/>
<path d="M214.32 314v-1.3M214.32 180.7v1.3M221.77 314v-1.3M221.77 180.7v1.3M227.05 314v-1.3M227.05 180.7v1.3M231.15 314v-1.3M231.15 180.7v1.3M234.49 314v-1.3M234.49 180.7v1.3M237.32 314v-1.3M237.32 180.7v1.3M239.77 314v-1.3M239.77 180.7v1.3M241.94 314v-1.3M241.94 180.7v1.3M256.59 314v-1.3M256.59 180.7v1.3M264.04 314v-1.3M264.04 180.7v1.3M269.32 314v-1.3M269.32 180.7v1.3M273.42 314v-1.3M273.42 180.7v1.3M276.76 314v-1.3M276.76 180.7v1.3M279.59 314v-1.3M279.59 180.7v1.3M282.04 314v-1.3M282.04 180.7v1.3M284.21 314v-1.3M284.21 180.7v1.3M298.86 314v-1.3M298.86 180.7v1.3M306.31 314v-1.3M306.31 180.7v1.3M311.59 314v-1.3M311.59 180.7v1.3M315.69 314v-1.3M315.69 180.7v1.3M319.03 314v-1.3M319.03 180.7v1.3M321.86 314v-1.3M321.86 180.7v1.3M324.31 314v-1.3M324.31 180.7v1.3M326.48 314v-1.3M326.48 180.7v1.3" stroke="#222" stroke-width="0.5" fill="none"/>
<path d="M201.6 313.6h2M328.4 313.6h-2M201.6 304.8h2M328.4 304.8h-2M201.6 296.2h2M328.4 296.2h-2M201.6 287.7h2M328.4 287.7h-2M201.6 279h2M328.4 279h-2M201.6 260.8h2M328.4 260.8h-2M201.6 242.8h2M328.4 242.8h-2M201.6 225.1h2M328.4 225.1h-2M201.6 180.7h2M328.4 180.7h-2" stroke="#222" stroke-width="0.6" fill="none"/>
<text x="198.6" y="316.9" font-size="9.5" text-anchor="end">0</text>
<text x="198.6" y="308.1" font-size="9.5" text-anchor="end">1</text>
<text x="198.6" y="299.5" font-size="9.5" text-anchor="end">2</text>
<text x="198.6" y="291" font-size="9.5" text-anchor="end">3</text>
<text x="198.6" y="282.3" font-size="9.5" text-anchor="end">4</text>
<text x="198.6" y="264.1" font-size="9.5" text-anchor="end">6</text>
<text x="198.6" y="246.1" font-size="9.5" text-anchor="end">8</text>
<text x="198.6" y="228.4" font-size="10" text-anchor="end">10</text>
<text x="198.6" y="184" font-size="10" text-anchor="end">15</text>
<text x="201.6" y="325" font-size="10.3" text-anchor="middle">1</text>
<text x="243.87" y="325" font-size="10.3" text-anchor="middle">10</text>
<text x="286.14" y="325" font-size="10.3" text-anchor="middle">100</text>
<text x="328.41" y="325" font-size="10.3" text-anchor="middle">1000</text>
<text x="264.5" y="339.2" font-size="11.2" text-anchor="middle"><tspan font-style="italic">&#947;</tspan><tspan dx="-0.36em">&#729;</tspan><tspan dx="0.06em">(1/<tspan font-style="italic">s</tspan>)</tspan></text>
<text transform="translate(182,248.3) rotate(-90)" font-size="11" text-anchor="middle">&lt; <tspan font-style="italic">s</tspan> &gt;</text>
<text x="203" y="178.5" font-size="7.5" text-anchor="middle" font-style="italic">(d)</text>
<circle cx="221.77" cy="290.9" r="2.9" fill="#ff7f0e" stroke="#000" stroke-width="0.5"/>
<circle cx="243.87" cy="281.83" r="2.9" fill="#ff7f0e" stroke="#000" stroke-width="0.5"/>
<circle cx="264.04" cy="270.81" r="2.9" fill="#ff7f0e" stroke="#000" stroke-width="0.5"/>
<circle cx="286.14" cy="270.81" r="2.9" fill="#ff7f0e" stroke="#000" stroke-width="0.5"/>
<circle cx="306.31" cy="263.17" r="2.9" fill="#ff7f0e" stroke="#000" stroke-width="0.5"/>
<circle cx="328.41" cy="269.75" r="2.9" fill="#ff7f0e" stroke="#000" stroke-width="0.5"/>
<rect x="219.69" y="303.03" width="4.16" height="4.16" fill="#8c564b" stroke="#000" stroke-width="0.5"/>
<rect x="241.79" y="303.03" width="4.16" height="4.16" fill="#8c564b" stroke="#000" stroke-width="0.5"/>
<rect x="261.96" y="302.59" width="4.16" height="4.16" fill="#8c564b" stroke="#000" stroke-width="0.5"/>
<rect x="284.06" y="302.59" width="4.16" height="4.16" fill="#8c564b" stroke="#000" stroke-width="0.5"/>
<rect x="304.23" y="303.03" width="4.16" height="4.16" fill="#8c564b" stroke="#000" stroke-width="0.5"/>
<rect x="326.33" y="302.59" width="4.16" height="4.16" fill="#8c564b" stroke="#000" stroke-width="0.5"/>
<polygon points="219.97,303.46 219.97,309.44 224.76,306.45" fill="#1f77b4" stroke="#000" stroke-width="0.5"/>
<polygon points="242.08,303.46 242.08,309.44 246.86,306.45" fill="#1f77b4" stroke="#000" stroke-width="0.5"/>
<polygon points="262.24,303.01 262.24,308.99 267.03,306" fill="#1f77b4" stroke="#000" stroke-width="0.5"/>
<polygon points="284.35,303.01 284.35,308.99 289.13,306" fill="#1f77b4" stroke="#000" stroke-width="0.5"/>
<polygon points="304.51,302.57 304.51,308.55 309.3,305.56" fill="#1f77b4" stroke="#000" stroke-width="0.5"/>
<polygon points="326.62,303.01 326.62,308.99 331.4,306" fill="#1f77b4" stroke="#000" stroke-width="0.5"/>
<polygon points="223.56,303.19 223.56,309.17 218.78,306.18" fill="#2ca02c" stroke="#000" stroke-width="0.5"/>
<polygon points="245.66,303.01 245.66,308.99 240.88,306" fill="#2ca02c" stroke="#000" stroke-width="0.5"/>
<polygon points="265.83,302.57 265.83,308.55 261.05,305.56" fill="#2ca02c" stroke="#000" stroke-width="0.5"/>
<polygon points="287.93,302.12 287.93,308.1 283.15,305.11" fill="#2ca02c" stroke="#000" stroke-width="0.5"/>
<polygon points="308.1,302.57 308.1,308.55 303.32,305.56" fill="#2ca02c" stroke="#000" stroke-width="0.5"/>
<polygon points="330.2,302.57 330.2,308.55 325.42,305.56" fill="#2ca02c" stroke="#000" stroke-width="0.5"/>
<polygon points="218.78,305.13 224.76,305.13 221.77,300.35" fill="#9467bd" stroke="#000" stroke-width="0.5"/>
<polygon points="240.88,305.13 246.86,305.13 243.87,300.35" fill="#9467bd" stroke="#000" stroke-width="0.5"/>
<polygon points="261.05,303.8 267.03,303.8 264.04,299.01" fill="#9467bd" stroke="#000" stroke-width="0.5"/>
<polygon points="283.15,303.8 289.13,303.8 286.14,299.01" fill="#9467bd" stroke="#000" stroke-width="0.5"/>
<polygon points="303.32,302.02 309.3,302.02 306.31,297.24" fill="#9467bd" stroke="#000" stroke-width="0.5"/>
<polygon points="325.42,303.35 331.4,303.35 328.41,298.57" fill="#9467bd" stroke="#000" stroke-width="0.5"/>
<rect x="211.8" y="186.6" width="63.9" height="63" fill="#fff" stroke="#222" stroke-width="0.9"/>
<path d="M222.4 249.6v-2M222.4 186.6v2M233 249.6v-2M233 186.6v2M243.6 249.6v-2M243.6 186.6v2M254.2 249.6v-2M254.2 186.6v2M264.8 249.6v-2M264.8 186.6v2" stroke="#222" stroke-width="0.6" fill="none"/>
<path d="M211.8 186.6h2M275.7 186.6h-2M211.8 212.11h2M275.7 212.11h-2M211.8 223.1h2M275.7 223.1h-2" stroke="#222" stroke-width="0.6" fill="none"/>
<path d="M211.8 242.19h1.1M275.7 242.19h-1.1M211.8 237.62h1.1M275.7 237.62h-1.1M211.8 234.09h1.1M275.7 234.09h-1.1M211.8 231.2h1.1M275.7 231.2h-1.1M211.8 228.75h1.1M275.7 228.75h-1.1M211.8 226.64h1.1M275.7 226.64h-1.1M211.8 224.77h1.1M275.7 224.77h-1.1M211.8 205.69h1.1M275.7 205.69h-1.1M211.8 201.12h1.1M275.7 201.12h-1.1M211.8 197.59h1.1M275.7 197.59h-1.1M211.8 194.7h1.1M275.7 194.7h-1.1M211.8 192.25h1.1M275.7 192.25h-1.1M211.8 190.14h1.1M275.7 190.14h-1.1M211.8 188.27h1.1M275.7 188.27h-1.1" stroke="#222" stroke-width="0.45" fill="none"/>
<text x="222.4" y="257.6" font-size="6.8" text-anchor="middle">0.1</text>
<text x="243.6" y="257.6" font-size="6.8" text-anchor="middle">0.3</text>
<text x="264.8" y="257.6" font-size="6.8" text-anchor="middle">0.5</text>
<text x="208" y="189" font-size="6.8" text-anchor="end">10</text>
<text x="209.8" y="214.51" font-size="6.8" text-anchor="end">2</text>
<text x="209.8" y="225.5" font-size="6.8" text-anchor="end">1</text>
<text x="225" y="200.5" font-size="8.5" text-anchor="middle"><tspan font-style="italic">s</tspan><tspan font-size="5.5" dy="1.5">0</tspan></text>
<text x="243.6" y="272" font-size="9" text-anchor="middle" font-style="italic">&#981;</text>
<polygon points="224.12,228.86 224.12,234.61 219.53,231.73" fill="#1f77b4" stroke="#000" stroke-width="0.5"/>
<rect x="220.4" y="229.73" width="4" height="4" fill="#e6ab02" stroke="#000" stroke-width="0.5"/>
<circle cx="222.4" cy="236.85" r="2.5" fill="#66a61e" stroke="#000" stroke-width="0.5"/>
<rect x="220.4" y="241.28" width="4" height="4" fill="#8c564b" stroke="#000" stroke-width="0.5"/>
<polygon points="219.53,247.45 225.28,247.45 222.4,242.85" fill="#e7298a" stroke="#000" stroke-width="0.5"/>
<circle cx="222.4" cy="248.61" r="2.5" fill="#66a61e" stroke="#000" stroke-width="0.5"/>
<polygon points="219.53,248.56 225.28,248.56 222.4,253.16" fill="#1b9e77" stroke="#000" stroke-width="0.5"/>
<polygon points="230.12,216.41 235.88,216.41 233,211.81" fill="#9467bd" stroke="#000" stroke-width="0.5"/>
<circle cx="233" cy="217.21" r="2.5" fill="#66a61e" stroke="#000" stroke-width="0.5"/>
<rect x="231" y="220.33" width="4" height="4" fill="#e6ab02" stroke="#000" stroke-width="0.5"/>
<polygon points="230.12,227.97 235.88,227.97 233,223.37" fill="#e7298a" stroke="#000" stroke-width="0.5"/>
<polygon points="240.73,196.51 246.48,196.51 243.6,201.11" fill="#1a3f6f" stroke="#000" stroke-width="0.5"/>
<circle cx="243.6" cy="201.69" r="2.5" fill="#66a61e" stroke="#000" stroke-width="0.5"/>
<rect x="241.6" y="203.17" width="4" height="4" fill="#e6ab02" stroke="#000" stroke-width="0.5"/>
<rect x="252.2" y="221.1" width="4" height="4" fill="#66a61e" stroke="#000" stroke-width="0.5"/>
<rect x="262.8" y="221.1" width="4" height="4" fill="#e6ab02" stroke="#000" stroke-width="0.5"/>
<path d="M280 188V196M278.5 188h3M278.5 196h3" stroke="#1f77b4" stroke-width="0.6"/>
<polygon points="278.21,189.01 278.21,194.99 282.99,192" fill="#1f77b4" stroke="#000" stroke-width="0.5"/>
<text x="295" y="195.2" font-size="9" text-anchor="start"><tspan font-style="italic">&#981;</tspan><tspan dx="1.5">=</tspan><tspan dx="1.5">0.1</tspan></text>
<path d="M280 199.8V207.8M278.5 199.8h3M278.5 207.8h3" stroke="#2ca02c" stroke-width="0.6"/>
<polygon points="281.79,200.81 281.79,206.79 277.01,203.8" fill="#2ca02c" stroke="#000" stroke-width="0.5"/>
<text x="295" y="207" font-size="9" text-anchor="start"><tspan font-style="italic">&#981;</tspan><tspan dx="1.5">=</tspan><tspan dx="1.5">0.2</tspan></text>
<path d="M280 211.6V219.6M278.5 211.6h3M278.5 219.6h3" stroke="#9467bd" stroke-width="0.6"/>
<polygon points="277.01,217.39 282.99,217.39 280,212.61" fill="#9467bd" stroke="#000" stroke-width="0.5"/>
<text x="295" y="218.8" font-size="9" text-anchor="start"><tspan font-style="italic">&#981;</tspan><tspan dx="1.5">=</tspan><tspan dx="1.5">0.3</tspan></text>
<path d="M280 223.4V231.4M278.5 223.4h3M278.5 231.4h3" stroke="#ff7f0e" stroke-width="0.6"/>
<circle cx="280" cy="227.4" r="2.6" fill="#ff7f0e" stroke="#000" stroke-width="0.5"/>
<text x="295" y="230.6" font-size="9" text-anchor="start"><tspan font-style="italic">&#981;</tspan><tspan dx="1.5">=</tspan><tspan dx="1.5">0.4</tspan></text>
<path d="M280 235.2V243.2M278.5 235.2h3M278.5 243.2h3" stroke="#8c564b" stroke-width="0.6"/>
<rect x="277.92" y="237.12" width="4.16" height="4.16" fill="#8c564b" stroke="#000" stroke-width="0.5"/>
<text x="295" y="242.4" font-size="9" text-anchor="start"><tspan font-style="italic">&#981;</tspan><tspan dx="1.5">=</tspan><tspan dx="1.5">0.5</tspan></text>
<rect x="29.6" y="369.6" width="134.4" height="135.2" fill="none" stroke="#222" stroke-width="0.9"/>
<path d="M29.6 504.8v-2M29.6 369.6v2M52 504.8v-2M52 369.6v2M74.4 504.8v-2M74.4 369.6v2M96.8 504.8v-2M96.8 369.6v2M119.2 504.8v-2M119.2 369.6v2M141.6 504.8v-2M141.6 369.6v2M164 504.8v-2M164 369.6v2" stroke="#222" stroke-width="0.6" fill="none"/>
<path d="M29.6 504.8h2M164 504.8h-2M29.6 471.05h2M164 471.05h-2M29.6 437.3h2M164 437.3h-2M29.6 403.55h2M164 403.55h-2M29.6 369.8h2M164 369.8h-2" stroke="#222" stroke-width="0.6" fill="none"/>
<text x="26.6" y="507.7" font-size="8.5" text-anchor="end">0.00</text>
<text x="26.6" y="473.95" font-size="8.5" text-anchor="end">0.05</text>
<text x="26.6" y="440.2" font-size="8.5" text-anchor="end">0.10</text>
<text x="26.6" y="406.45" font-size="8.5" text-anchor="end">0.15</text>
<text x="26.6" y="372.7" font-size="8.5" text-anchor="end">0.20</text>
<text x="29.6" y="514.6" font-size="8.5" text-anchor="middle">0.0</text>
<text x="52" y="514.6" font-size="8.5" text-anchor="middle">0.1</text>
<text x="74.4" y="514.6" font-size="8.5" text-anchor="middle">0.2</text>
<text x="96.8" y="514.6" font-size="8.5" text-anchor="middle">0.3</text>
<text x="119.2" y="514.6" font-size="8.5" text-anchor="middle">0.4</text>
<text x="141.6" y="514.6" font-size="8.5" text-anchor="middle">0.5</text>
<text x="164" y="514.6" font-size="8.5" text-anchor="middle">0.6</text>
<text x="96" y="526" font-size="8.5" text-anchor="middle" font-style="italic">&#981;</text>
<text transform="translate(5.5,437.8) rotate(-90)" font-size="10" text-anchor="middle"><tspan font-style="italic">&#947;</tspan><tspan dx="-0.36em">&#729;</tspan><tspan dx="3">&lt; <tspan font-style="italic">t</tspan><tspan font-size="6.8" dy="1.6" font-style="italic">c</tspan><tspan dy="-1.6" dx="1.5">&gt;</tspan></tspan></text>
<text x="23" y="361.5" font-size="6.5" text-anchor="middle" font-style="italic">(e)</text>
<path d="M52 491.64 L74.4 488.19 L96.8 476.18 L119.2 464.64 L141.6 448.57" stroke="#1b9e77" stroke-width="1.25" fill="none"/>
<path d="M52 485.23 L74.4 472.4 L96.8 469.03 L119.2 456.2 L141.6 440" stroke="#d95f02" stroke-width="1.25" fill="none"/>
<path d="M52 482.53 L74.4 466.32 L96.8 455.12 L119.2 443.58 L141.6 435.28" stroke="#7570b3" stroke-width="1.25" fill="none"/>
<path d="M52 484.15 L74.4 466.66 L96.8 443.11 L119.2 435.28 L141.6 423.8" stroke="#e7298a" stroke-width="1.25" fill="none"/>
<path d="M52 469.7 L74.4 442.03 L96.8 424.07 L119.2 419.08 L141.6 415.02" stroke="#66a61e" stroke-width="1.25" fill="none"/>
<path d="M52 451.14 L74.4 430.08 L96.8 435.61 L119.2 410.3 L141.6 392.75" stroke="#e6ab02" stroke-width="1.25" fill="none"/>
<polygon points="49.01,489.84 54.99,489.84 52,494.63" fill="#1b9e77" stroke="#000" stroke-width="0.5"/>
<polygon points="71.41,486.4 77.39,486.4 74.4,491.19" fill="#1b9e77" stroke="#000" stroke-width="0.5"/>
<polygon points="93.81,474.39 99.79,474.39 96.8,479.17" fill="#1b9e77" stroke="#000" stroke-width="0.5"/>
<polygon points="116.21,462.84 122.19,462.84 119.2,467.63" fill="#1b9e77" stroke="#000" stroke-width="0.5"/>
<polygon points="138.61,446.78 144.59,446.78 141.6,451.56" fill="#1b9e77" stroke="#000" stroke-width="0.5"/>
<polygon points="50.21,482.24 50.21,488.22 54.99,485.23" fill="#d95f02" stroke="#000" stroke-width="0.5"/>
<polygon points="72.61,469.41 72.61,475.39 77.39,472.4" fill="#d95f02" stroke="#000" stroke-width="0.5"/>
<polygon points="95.01,466.04 95.01,472.02 99.79,469.03" fill="#d95f02" stroke="#000" stroke-width="0.5"/>
<polygon points="117.41,453.21 117.41,459.19 122.19,456.2" fill="#d95f02" stroke="#000" stroke-width="0.5"/>
<polygon points="139.81,437.01 139.81,442.99 144.59,440" fill="#d95f02" stroke="#000" stroke-width="0.5"/>
<polygon points="53.79,479.54 53.79,485.52 49.01,482.53" fill="#7570b3" stroke="#000" stroke-width="0.5"/>
<polygon points="76.19,463.33 76.19,469.31 71.41,466.32" fill="#7570b3" stroke="#000" stroke-width="0.5"/>
<polygon points="98.59,452.13 98.59,458.11 93.81,455.12" fill="#7570b3" stroke="#000" stroke-width="0.5"/>
<polygon points="120.99,440.59 120.99,446.57 116.21,443.58" fill="#7570b3" stroke="#000" stroke-width="0.5"/>
<polygon points="143.39,432.29 143.39,438.27 138.61,435.28" fill="#7570b3" stroke="#000" stroke-width="0.5"/>
<polygon points="49.01,485.94 54.99,485.94 52,481.16" fill="#e7298a" stroke="#000" stroke-width="0.5"/>
<polygon points="71.41,468.46 77.39,468.46 74.4,463.67" fill="#e7298a" stroke="#000" stroke-width="0.5"/>
<polygon points="93.81,444.9 99.79,444.9 96.8,440.12" fill="#e7298a" stroke="#000" stroke-width="0.5"/>
<polygon points="116.21,437.07 122.19,437.07 119.2,432.29" fill="#e7298a" stroke="#000" stroke-width="0.5"/>
<polygon points="138.61,425.59 144.59,425.59 141.6,420.81" fill="#e7298a" stroke="#000" stroke-width="0.5"/>
<circle cx="52" cy="469.7" r="2.6" fill="#66a61e" stroke="#000" stroke-width="0.5"/>
<circle cx="74.4" cy="442.03" r="2.6" fill="#66a61e" stroke="#000" stroke-width="0.5"/>
<circle cx="96.8" cy="424.07" r="2.6" fill="#66a61e" stroke="#000" stroke-width="0.5"/>
<circle cx="119.2" cy="419.08" r="2.6" fill="#66a61e" stroke="#000" stroke-width="0.5"/>
<circle cx="141.6" cy="415.02" r="2.6" fill="#66a61e" stroke="#000" stroke-width="0.5"/>
<rect x="49.92" y="449.06" width="4.16" height="4.16" fill="#e6ab02" stroke="#000" stroke-width="0.5"/>
<rect x="72.32" y="428" width="4.16" height="4.16" fill="#e6ab02" stroke="#000" stroke-width="0.5"/>
<rect x="94.72" y="433.53" width="4.16" height="4.16" fill="#e6ab02" stroke="#000" stroke-width="0.5"/>
<rect x="117.12" y="408.22" width="4.16" height="4.16" fill="#e6ab02" stroke="#000" stroke-width="0.5"/>
<rect x="139.52" y="390.67" width="4.16" height="4.16" fill="#e6ab02" stroke="#000" stroke-width="0.5"/>
<rect x="201.2" y="369.8" width="133.7" height="135.2" fill="none" stroke="#222" stroke-width="0.9"/>
<path d="M201.2 505v-2M201.2 369.8v2M220.3 505v-2M220.3 369.8v2M239.4 505v-2M239.4 369.8v2M258.5 505v-2M258.5 369.8v2M277.6 505v-2M277.6 369.8v2M296.7 505v-2M296.7 369.8v2M315.8 505v-2M315.8 369.8v2M334.9 505v-2M334.9 369.8v2" stroke="#222" stroke-width="0.6" fill="none"/>
<path d="M201.2 369.8h2M334.9 369.8h-2M201.2 396.84h2M334.9 396.84h-2M201.2 423.88h2M334.9 423.88h-2M201.2 450.92h2M334.9 450.92h-2M201.2 477.96h2M334.9 477.96h-2M201.2 505h2M334.9 505h-2" stroke="#222" stroke-width="0.6" fill="none"/>
<text x="198.2" y="372.4" font-size="8.5" text-anchor="end">0</text>
<text x="198.2" y="399.44" font-size="8.5" text-anchor="end">&#8722;1</text>
<text x="198.2" y="426.48" font-size="8.5" text-anchor="end">&#8722;2</text>
<text x="198.2" y="453.52" font-size="8.5" text-anchor="end">&#8722;3</text>
<text x="198.2" y="480.56" font-size="8.5" text-anchor="end">&#8722;4</text>
<text x="198.2" y="507.6" font-size="8.5" text-anchor="end">&#8722;5</text>
<text x="201.2" y="514.5" font-size="8" text-anchor="middle">0</text>
<text x="220.3" y="514.5" font-size="8" text-anchor="middle">1</text>
<text x="239.4" y="514.5" font-size="8" text-anchor="middle">2</text>
<text x="258.5" y="514.5" font-size="8" text-anchor="middle">3</text>
<text x="277.6" y="514.5" font-size="8" text-anchor="middle">4</text>
<text x="296.7" y="514.5" font-size="8" text-anchor="middle">5</text>
<text x="315.8" y="514.5" font-size="8" text-anchor="middle">6</text>
<text x="334.9" y="514.5" font-size="8" text-anchor="middle">7</text>
<text x="267" y="524.5" font-size="9.1" text-anchor="middle">Contact time (<tspan font-style="italic">&#947;</tspan><tspan dx="-0.36em">&#729;</tspan><tspan dx="0.06em"><tspan font-style="italic">t</tspan><tspan font-size="6" dy="1.5" font-style="italic">c</tspan><tspan dy="-1.5">)</tspan></tspan></text>
<text transform="translate(180.6,437.5) rotate(-90)" font-size="8.7" text-anchor="middle">log<tspan font-size="6" dy="2">10</tspan><tspan dy="-2" font-style="italic"> p</tspan><tspan font-size="6" dy="1.5" font-style="italic">c</tspan><tspan dy="-1.5">(</tspan><tspan font-style="italic">t</tspan><tspan font-size="6" dy="1.5" font-style="italic">c</tspan><tspan dy="-1.5">)</tspan></text>
<text x="199.5" y="365" font-size="8" text-anchor="middle" font-style="italic">(f)</text>
<text x="247.5" y="383" font-size="8.5" text-anchor="middle"><tspan font-style="italic">&#981;</tspan> = 0.3</text>
<clipPath id="cf"><rect x="201.2" y="369.8" width="133.7" height="135.2"/></clipPath>
<g clip-path="url(#cf)">
<path d="M205.97 384.94L283.33 476.07" stroke="#1b9e77" stroke-width="1.1"/>
<path d="M206.93 380.89L300.52 482.02" stroke="#d95f02" stroke-width="1.1"/>
<path d="M208.08 380.08L321.53 469.85" stroke="#7570b3" stroke-width="1.1"/>
<path d="M208.08 380.08L321.53 450.92" stroke="#e7298a" stroke-width="1.1"/>
<path d="M208.08 380.08L321.53 441.73" stroke="#e6ab02" stroke-width="1.1"/>
<path d="M208.08 380.08L321.53 437.13" stroke="#66a61e" stroke-width="1.1"/>
<polygon points="210.89,368.05 210.89,374.26 205.93,371.15" fill="#7570b3" stroke="#000" stroke-width="0.5"/>
<polygon points="224.84,390.49 224.84,396.7 219.87,393.6" fill="#7570b3" stroke="#000" stroke-width="0.5"/>
<polygon points="238.78,404.01 238.78,410.22 233.81,407.12" fill="#7570b3" stroke="#000" stroke-width="0.5"/>
<polygon points="253.49,414.01 253.49,420.23 248.52,417.12" fill="#7570b3" stroke="#000" stroke-width="0.5"/>
<polygon points="267.62,424.83 267.62,431.04 262.65,427.94" fill="#7570b3" stroke="#000" stroke-width="0.5"/>
<polygon points="281.95,434.84 281.95,441.05 276.98,437.94" fill="#7570b3" stroke="#000" stroke-width="0.5"/>
<polygon points="295.7,441.33 295.7,447.54 290.73,444.43" fill="#7570b3" stroke="#000" stroke-width="0.5"/>
<polygon points="309.83,449.98 309.83,456.19 304.86,453.08" fill="#7570b3" stroke="#000" stroke-width="0.5"/>
<polygon points="323.58,465.93 323.58,472.14 318.62,469.04" fill="#7570b3" stroke="#000" stroke-width="0.5"/>
<polygon points="205.93,374.37 212.14,374.37 209.03,369.4" fill="#e7298a" stroke="#000" stroke-width="0.5"/>
<polygon points="219.87,391.94 226.08,391.94 222.97,386.98" fill="#e7298a" stroke="#000" stroke-width="0.5"/>
<polygon points="233.81,403.84 240.02,403.84 236.92,398.87" fill="#e7298a" stroke="#000" stroke-width="0.5"/>
<polygon points="248.52,415.74 254.73,415.74 251.62,410.77" fill="#e7298a" stroke="#000" stroke-width="0.5"/>
<polygon points="262.65,424.39 268.86,424.39 265.76,419.42" fill="#e7298a" stroke="#000" stroke-width="0.5"/>
<polygon points="276.98,429.8 283.19,429.8 280.08,424.83" fill="#e7298a" stroke="#000" stroke-width="0.5"/>
<polygon points="290.73,435.48 296.94,435.48 293.83,430.51" fill="#e7298a" stroke="#000" stroke-width="0.5"/>
<polygon points="304.86,444.94 311.07,444.94 307.97,439.97" fill="#e7298a" stroke="#000" stroke-width="0.5"/>
<polygon points="318.62,452.78 324.83,452.78 321.72,447.81" fill="#e7298a" stroke="#000" stroke-width="0.5"/>
<rect x="206.87" y="370.34" width="4.32" height="4.32" fill="#e6ab02" stroke="#000" stroke-width="0.5"/>
<rect x="220.81" y="384.95" width="4.32" height="4.32" fill="#e6ab02" stroke="#000" stroke-width="0.5"/>
<rect x="234.76" y="396.84" width="4.32" height="4.32" fill="#e6ab02" stroke="#000" stroke-width="0.5"/>
<rect x="249.46" y="407.93" width="4.32" height="4.32" fill="#e6ab02" stroke="#000" stroke-width="0.5"/>
<rect x="263.6" y="416.85" width="4.32" height="4.32" fill="#e6ab02" stroke="#000" stroke-width="0.5"/>
<rect x="277.92" y="423.07" width="4.32" height="4.32" fill="#e6ab02" stroke="#000" stroke-width="0.5"/>
<rect x="291.67" y="426.32" width="4.32" height="4.32" fill="#e6ab02" stroke="#000" stroke-width="0.5"/>
<rect x="305.81" y="435.78" width="4.32" height="4.32" fill="#e6ab02" stroke="#000" stroke-width="0.5"/>
<rect x="319.56" y="440.92" width="4.32" height="4.32" fill="#e6ab02" stroke="#000" stroke-width="0.5"/>
<polygon points="204.4,368.48 210.61,368.48 207.5,373.45" fill="#1b9e77" stroke="#000" stroke-width="0.5"/>
<polygon points="212.99,397.14 219.2,397.14 216.1,402.11" fill="#1b9e77" stroke="#000" stroke-width="0.5"/>
<polygon points="221.97,411.2 228.18,411.2 225.07,416.17" fill="#1b9e77" stroke="#000" stroke-width="0.5"/>
<polygon points="231.9,424.18 238.11,424.18 235.01,429.15" fill="#1b9e77" stroke="#000" stroke-width="0.5"/>
<polygon points="240.88,434.73 247.09,434.73 243.98,439.69" fill="#1b9e77" stroke="#000" stroke-width="0.5"/>
<polygon points="250.43,445.81 256.64,445.81 253.53,450.78" fill="#1b9e77" stroke="#000" stroke-width="0.5"/>
<polygon points="259.98,449.6 266.19,449.6 263.08,454.57" fill="#1b9e77" stroke="#000" stroke-width="0.5"/>
<polygon points="269.72,456.36 275.93,456.36 272.82,461.33" fill="#1b9e77" stroke="#000" stroke-width="0.5"/>
<polygon points="279.08,467.44 285.29,467.44 282.18,472.41" fill="#1b9e77" stroke="#000" stroke-width="0.5"/>
<polygon points="206.21,369.4 206.21,375.61 211.18,372.5" fill="#d95f02" stroke="#000" stroke-width="0.5"/>
<polygon points="217.1,394.55 217.1,400.76 222.07,397.65" fill="#d95f02" stroke="#000" stroke-width="0.5"/>
<polygon points="228.18,407.8 228.18,414.01 233.15,410.9" fill="#d95f02" stroke="#000" stroke-width="0.5"/>
<polygon points="239.06,418.88 239.06,425.09 244.03,421.99" fill="#d95f02" stroke="#000" stroke-width="0.5"/>
<polygon points="251.1,429.16 251.1,435.37 256.07,432.26" fill="#d95f02" stroke="#000" stroke-width="0.5"/>
<polygon points="262.56,441.06 262.56,447.27 267.53,444.16" fill="#d95f02" stroke="#000" stroke-width="0.5"/>
<polygon points="273.83,460.79 273.83,467 278.8,463.9" fill="#d95f02" stroke="#000" stroke-width="0.5"/>
<polygon points="285.48,466.74 285.48,472.95 290.45,469.85" fill="#d95f02" stroke="#000" stroke-width="0.5"/>
<polygon points="298.08,469.18 298.08,475.39 303.05,472.28" fill="#d95f02" stroke="#000" stroke-width="0.5"/>
<circle cx="209.03" cy="376.29" r="2.7" fill="#66a61e" stroke="#000" stroke-width="0.5"/>
<circle cx="222.97" cy="384.94" r="2.7" fill="#66a61e" stroke="#000" stroke-width="0.5"/>
<circle cx="236.92" cy="396.03" r="2.7" fill="#66a61e" stroke="#000" stroke-width="0.5"/>
<circle cx="251.62" cy="404.68" r="2.7" fill="#66a61e" stroke="#000" stroke-width="0.5"/>
<circle cx="265.76" cy="412.25" r="2.7" fill="#66a61e" stroke="#000" stroke-width="0.5"/>
<circle cx="280.08" cy="418.2" r="2.7" fill="#66a61e" stroke="#000" stroke-width="0.5"/>
<circle cx="293.83" cy="424.42" r="2.7" fill="#66a61e" stroke="#000" stroke-width="0.5"/>
<circle cx="307.97" cy="431.99" r="2.7" fill="#66a61e" stroke="#000" stroke-width="0.5"/>
<circle cx="321.72" cy="437.13" r="2.7" fill="#66a61e" stroke="#000" stroke-width="0.5"/>
</g>
<rect x="283.4" y="370.1" width="52.9" height="52.6" fill="#fff" stroke="#222" stroke-width="0.9"/>
<path d="M283.4 422.7v-1.8M283.4 370.1v1.8M290.96 422.7v-1.8M290.96 370.1v1.8M298.52 422.7v-1.8M298.52 370.1v1.8M306.08 422.7v-1.8M306.08 370.1v1.8M313.64 422.7v-1.8M313.64 370.1v1.8M321.2 422.7v-1.8M321.2 370.1v1.8M328.76 422.7v-1.8M328.76 370.1v1.8M336.32 422.7v-1.8M336.32 370.1v1.8" stroke="#222" stroke-width="0.6" fill="none"/>
<path d="M283.4 370.1h1.8M336.3 370.1h-1.8M283.4 380.55h1.8M336.3 380.55h-1.8M283.4 391h1.8M336.3 391h-1.8M283.4 401.45h1.8M336.3 401.45h-1.8M283.4 411.9h1.8M336.3 411.9h-1.8M283.4 422.35h1.8M336.3 422.35h-1.8" stroke="#222" stroke-width="0.6" fill="none"/>
<text x="283.4" y="365.5" font-size="8" text-anchor="middle">0</text>
<text x="290.96" y="365.5" font-size="8" text-anchor="middle">1</text>
<text x="298.52" y="365.5" font-size="8" text-anchor="middle">2</text>
<text x="306.08" y="365.5" font-size="8" text-anchor="middle">3</text>
<text x="313.64" y="365.5" font-size="8" text-anchor="middle">4</text>
<text x="321.2" y="365.5" font-size="8" text-anchor="middle">5</text>
<text x="328.76" y="365.5" font-size="8" text-anchor="middle">6</text>
<text x="336.32" y="365.5" font-size="8" text-anchor="middle">7</text>
<text x="339.3" y="383.35" font-size="8" text-anchor="start">&#8722;1</text>
<text x="339.3" y="393.8" font-size="8" text-anchor="start">&#8722;2</text>
<text x="339.3" y="404.25" font-size="8" text-anchor="start">&#8722;3</text>
<text x="339.3" y="414.7" font-size="8" text-anchor="start">&#8722;4</text>
<text x="310" y="412" font-size="8" text-anchor="middle"><tspan font-style="italic">&#981;</tspan> = 0.1</text>
<clipPath id="cg"><rect x="283.4" y="370.1" width="52.9" height="52.6"/></clipPath><g clip-path="url(#cg)">
<path d="M284.3 371.1L285.5 386" stroke="#1b9e77" stroke-width="1"/>
<path d="M284.3 371.1L288 394.5" stroke="#e7298a" stroke-width="1"/>
<path d="M284.3 371.1L294 395.5" stroke="#7570b3" stroke-width="1"/>
<path d="M284.3 371.1L291 392" stroke="#d95f02" stroke-width="1"/>
<path d="M284.3 371.1L295.5 388.5" stroke="#66a61e" stroke-width="1"/>
<path d="M284.3 371.1L299.7 393.4" stroke="#e6ab02" stroke-width="1"/>
<polygon points="282.16,373.41 287.44,373.41 284.8,377.64" fill="#1b9e77" stroke="#000" stroke-width="0.5"/>
<polygon points="282.56,379.41 287.84,379.41 285.2,383.64" fill="#1b9e77" stroke="#000" stroke-width="0.5"/>
<polygon points="282.86,383.41 288.14,383.41 285.5,387.64" fill="#1b9e77" stroke="#000" stroke-width="0.5"/>
<polygon points="283.36,381.59 288.64,381.59 286,377.36" fill="#e7298a" stroke="#000" stroke-width="0.5"/>
<polygon points="284.56,389.59 289.84,389.59 287.2,385.36" fill="#e7298a" stroke="#000" stroke-width="0.5"/>
<polygon points="285.36,395.09 290.64,395.09 288,390.86" fill="#e7298a" stroke="#000" stroke-width="0.5"/>
<polygon points="290.59,381.36 290.59,386.64 286.36,384" fill="#7570b3" stroke="#000" stroke-width="0.5"/>
<polygon points="293.59,387.36 293.59,392.64 289.36,390" fill="#7570b3" stroke="#000" stroke-width="0.5"/>
<polygon points="295.59,392.36 295.59,397.64 291.36,395" fill="#7570b3" stroke="#000" stroke-width="0.5"/>
<polygon points="285.41,375.36 285.41,380.64 289.64,378" fill="#d95f02" stroke="#000" stroke-width="0.5"/>
<polygon points="287.91,384.36 287.91,389.64 292.14,387" fill="#d95f02" stroke="#000" stroke-width="0.5"/>
<circle cx="286.5" cy="374.5" r="2.3" fill="#66a61e" stroke="#000" stroke-width="0.5"/>
<circle cx="290" cy="380" r="2.3" fill="#66a61e" stroke="#000" stroke-width="0.5"/>
<circle cx="293" cy="385" r="2.3" fill="#66a61e" stroke="#000" stroke-width="0.5"/>
<circle cx="295.5" cy="388.5" r="2.3" fill="#66a61e" stroke="#000" stroke-width="0.5"/>
<rect x="286.76" y="372.76" width="3.68" height="3.68" fill="#e6ab02" stroke="#000" stroke-width="0.5"/>
<rect x="290.16" y="377.06" width="3.68" height="3.68" fill="#e6ab02" stroke="#000" stroke-width="0.5"/>
<rect x="293.56" y="380.46" width="3.68" height="3.68" fill="#e6ab02" stroke="#000" stroke-width="0.5"/>
<rect x="296.16" y="387.26" width="3.68" height="3.68" fill="#e6ab02" stroke="#000" stroke-width="0.5"/>
<rect x="297.86" y="391.56" width="3.68" height="3.68" fill="#e6ab02" stroke="#000" stroke-width="0.5"/>
</g>
<rect x="201.2" y="453.9" width="51.6" height="51.1" fill="#fff" stroke="#222" stroke-width="0.9"/>
<path d="M201.2 505v-1.8M201.2 453.9v1.8M208.74 505v-1.8M208.74 453.9v1.8M216.28 505v-1.8M216.28 453.9v1.8M223.82 505v-1.8M223.82 453.9v1.8M231.36 505v-1.8M231.36 453.9v1.8M238.9 505v-1.8M238.9 453.9v1.8M246.44 505v-1.8M246.44 453.9v1.8" stroke="#222" stroke-width="0.6" fill="none"/>
<path d="M201.2 453.9h1.8M252.8 453.9h-1.8M201.2 464.5h1.8M252.8 464.5h-1.8M201.2 475.1h1.8M252.8 475.1h-1.8M201.2 485.7h1.8M252.8 485.7h-1.8M201.2 496.3h1.8M252.8 496.3h-1.8" stroke="#222" stroke-width="0.6" fill="none"/>
<text x="208.74" y="449.5" font-size="8" text-anchor="middle">1</text>
<text x="216.28" y="449.5" font-size="8" text-anchor="middle">2</text>
<text x="223.82" y="449.5" font-size="8" text-anchor="middle">3</text>
<text x="231.36" y="449.5" font-size="8" text-anchor="middle">4</text>
<text x="238.9" y="449.5" font-size="8" text-anchor="middle">5</text>
<text x="246.44" y="449.5" font-size="8" text-anchor="middle">6</text>
<text x="255.3" y="456.7" font-size="8" text-anchor="start">0</text>
<text x="255.3" y="467.3" font-size="8" text-anchor="start">&#8722;1</text>
<text x="255.3" y="477.9" font-size="8" text-anchor="start">&#8722;2</text>
<text x="255.3" y="488.5" font-size="8" text-anchor="start">&#8722;3</text>
<text x="255.3" y="499.1" font-size="8" text-anchor="start">&#8722;4</text>
<text x="219" y="495" font-size="8" text-anchor="middle"><tspan font-style="italic">&#981;</tspan> = 0.5</text>
<clipPath id="ch"><rect x="201.2" y="453.9" width="51.6" height="51.1"/></clipPath><g clip-path="url(#ch)">
<polygon points="203.87,459.28 208.93,459.28 206.4,463.33" fill="#1b9e77" stroke="#000" stroke-width="0.5"/>
<polygon points="206.7,459.45 211.3,459.45 209,463.13" fill="#1b9e77" stroke="#000" stroke-width="0.5"/>
<polygon points="209.47,462.14 214.53,462.14 212,466.19" fill="#1b9e77" stroke="#000" stroke-width="0.5"/>
<polygon points="212.3,462.31 216.9,462.31 214.6,465.99" fill="#1b9e77" stroke="#000" stroke-width="0.5"/>
<polygon points="215.07,465 220.13,465 217.6,469.04" fill="#1b9e77" stroke="#000" stroke-width="0.5"/>
<polygon points="217.9,465.16 222.5,465.16 220.2,468.84" fill="#1b9e77" stroke="#000" stroke-width="0.5"/>
<polygon points="220.67,467.85 225.73,467.85 223.2,471.9" fill="#1b9e77" stroke="#000" stroke-width="0.5"/>
<polygon points="223.5,468.02 228.1,468.02 225.8,471.7" fill="#1b9e77" stroke="#000" stroke-width="0.5"/>
<polygon points="226.27,470.71 231.33,470.71 228.8,474.76" fill="#1b9e77" stroke="#000" stroke-width="0.5"/>
<polygon points="229.1,470.88 233.7,470.88 231.4,474.56" fill="#1b9e77" stroke="#000" stroke-width="0.5"/>
<polygon points="231.87,473.57 236.93,473.57 234.4,477.62" fill="#1b9e77" stroke="#000" stroke-width="0.5"/>
<polygon points="234.7,473.73 239.3,473.73 237,477.41" fill="#1b9e77" stroke="#000" stroke-width="0.5"/>
<polygon points="237.47,476.42 242.53,476.42 240,480.47" fill="#1b9e77" stroke="#000" stroke-width="0.5"/>
<polygon points="240.3,476.59 244.9,476.59 242.6,480.27" fill="#1b9e77" stroke="#000" stroke-width="0.5"/>
<polygon points="243.07,479.28 248.13,479.28 245.6,483.33" fill="#1b9e77" stroke="#000" stroke-width="0.5"/>
<polygon points="245.9,479.45 250.5,479.45 248.2,483.13" fill="#1b9e77" stroke="#000" stroke-width="0.5"/>
<polygon points="207.92,457.47 207.92,462.53 203.87,460" fill="#7570b3" stroke="#000" stroke-width="0.5"/>
<polygon points="213.52,460.04 213.52,465.1 209.47,462.57" fill="#7570b3" stroke="#000" stroke-width="0.5"/>
<polygon points="219.12,462.61 219.12,467.67 215.07,465.14" fill="#7570b3" stroke="#000" stroke-width="0.5"/>
<polygon points="224.72,465.18 224.72,470.24 220.67,467.71" fill="#7570b3" stroke="#000" stroke-width="0.5"/>
<polygon points="230.32,467.76 230.32,472.82 226.27,470.29" fill="#7570b3" stroke="#000" stroke-width="0.5"/>
<polygon points="235.92,470.33 235.92,475.39 231.87,472.86" fill="#7570b3" stroke="#000" stroke-width="0.5"/>
<polygon points="241.52,472.9 241.52,477.96 237.47,475.43" fill="#7570b3" stroke="#000" stroke-width="0.5"/>
<polygon points="247.12,475.47 247.12,480.53 243.07,478" fill="#7570b3" stroke="#000" stroke-width="0.5"/>
<polygon points="204.88,457.47 204.88,462.53 208.93,460" fill="#d95f02" stroke="#000" stroke-width="0.5"/>
<polygon points="210.48,459.9 210.48,464.96 214.53,462.43" fill="#d95f02" stroke="#000" stroke-width="0.5"/>
<polygon points="216.08,462.33 216.08,467.39 220.13,464.86" fill="#d95f02" stroke="#000" stroke-width="0.5"/>
<polygon points="221.68,464.76 221.68,469.82 225.73,467.29" fill="#d95f02" stroke="#000" stroke-width="0.5"/>
<polygon points="227.28,467.18 227.28,472.24 231.33,469.71" fill="#d95f02" stroke="#000" stroke-width="0.5"/>
<polygon points="232.88,469.61 232.88,474.67 236.93,472.14" fill="#d95f02" stroke="#000" stroke-width="0.5"/>
<polygon points="238.48,472.04 238.48,477.1 242.53,474.57" fill="#d95f02" stroke="#000" stroke-width="0.5"/>
<polygon points="244.08,474.47 244.08,479.53 248.13,477" fill="#d95f02" stroke="#000" stroke-width="0.5"/>
<polygon points="203.87,461.02 208.93,461.02 206.4,456.97" fill="#e7298a" stroke="#000" stroke-width="0.5"/>
<polygon points="209.47,463.38 214.53,463.38 212,459.33" fill="#e7298a" stroke="#000" stroke-width="0.5"/>
<polygon points="215.07,465.73 220.13,465.73 217.6,461.68" fill="#e7298a" stroke="#000" stroke-width="0.5"/>
<polygon points="220.67,468.09 225.73,468.09 223.2,464.04" fill="#e7298a" stroke="#000" stroke-width="0.5"/>
<polygon points="226.27,470.45 231.33,470.45 228.8,466.4" fill="#e7298a" stroke="#000" stroke-width="0.5"/>
<polygon points="231.87,472.8 236.93,472.8 234.4,468.76" fill="#e7298a" stroke="#000" stroke-width="0.5"/>
<polygon points="237.47,475.16 242.53,475.16 240,471.11" fill="#e7298a" stroke="#000" stroke-width="0.5"/>
<polygon points="243.07,477.52 248.13,477.52 245.6,473.47" fill="#e7298a" stroke="#000" stroke-width="0.5"/>
<circle cx="206.4" cy="459.5" r="2.2" fill="#66a61e" stroke="#000" stroke-width="0.5"/>
<circle cx="212" cy="461.64" r="2.2" fill="#66a61e" stroke="#000" stroke-width="0.5"/>
<circle cx="217.6" cy="463.79" r="2.2" fill="#66a61e" stroke="#000" stroke-width="0.5"/>
<circle cx="223.2" cy="465.93" r="2.2" fill="#66a61e" stroke="#000" stroke-width="0.5"/>
<circle cx="228.8" cy="468.07" r="2.2" fill="#66a61e" stroke="#000" stroke-width="0.5"/>
<circle cx="234.4" cy="470.21" r="2.2" fill="#66a61e" stroke="#000" stroke-width="0.5"/>
<circle cx="240" cy="472.36" r="2.2" fill="#66a61e" stroke="#000" stroke-width="0.5"/>
<circle cx="245.6" cy="474.5" r="2.2" fill="#66a61e" stroke="#000" stroke-width="0.5"/>
<rect x="204.64" y="457.44" width="3.52" height="3.52" fill="#e6ab02" stroke="#000" stroke-width="0.5"/>
<rect x="207.4" y="460.11" width="3.2" height="3.2" fill="#e6ab02" stroke="#000" stroke-width="0.5"/>
<rect x="210.24" y="459.27" width="3.52" height="3.52" fill="#e6ab02" stroke="#000" stroke-width="0.5"/>
<rect x="213" y="461.94" width="3.2" height="3.2" fill="#e6ab02" stroke="#000" stroke-width="0.5"/>
<rect x="215.84" y="461.1" width="3.52" height="3.52" fill="#e6ab02" stroke="#000" stroke-width="0.5"/>
<rect x="218.6" y="463.77" width="3.2" height="3.2" fill="#e6ab02" stroke="#000" stroke-width="0.5"/>
<rect x="221.44" y="462.93" width="3.52" height="3.52" fill="#e6ab02" stroke="#000" stroke-width="0.5"/>
<rect x="224.2" y="465.6" width="3.2" height="3.2" fill="#e6ab02" stroke="#000" stroke-width="0.5"/>
<rect x="227.04" y="464.75" width="3.52" height="3.52" fill="#e6ab02" stroke="#000" stroke-width="0.5"/>
<rect x="229.8" y="467.43" width="3.2" height="3.2" fill="#e6ab02" stroke="#000" stroke-width="0.5"/>
<rect x="232.64" y="466.58" width="3.52" height="3.52" fill="#e6ab02" stroke="#000" stroke-width="0.5"/>
<rect x="235.4" y="469.26" width="3.2" height="3.2" fill="#e6ab02" stroke="#000" stroke-width="0.5"/>
<rect x="238.24" y="468.41" width="3.52" height="3.52" fill="#e6ab02" stroke="#000" stroke-width="0.5"/>
<rect x="241" y="471.09" width="3.2" height="3.2" fill="#e6ab02" stroke="#000" stroke-width="0.5"/>
<rect x="243.84" y="470.24" width="3.52" height="3.52" fill="#e6ab02" stroke="#000" stroke-width="0.5"/>
<rect x="246.6" y="472.91" width="3.2" height="3.2" fill="#e6ab02" stroke="#000" stroke-width="0.5"/>
<path d="M203.2 457.6L249.6 481" stroke="#1b9e77" stroke-width="1"/>
<path d="M203.2 457.6L249.6 478.5" stroke="#d95f02" stroke-width="1"/>
<path d="M203.2 457.6L249.6 479" stroke="#7570b3" stroke-width="1"/>
<path d="M203.2 457.6L249.6 477" stroke="#e7298a" stroke-width="1"/>
<path d="M203.2 457.6L249.6 475.5" stroke="#66a61e" stroke-width="1"/>
<path d="M203.2 457.6L249.6 474" stroke="#e6ab02" stroke-width="1"/>
<circle cx="203.2" cy="455.5" r="2.4" fill="#66a61e" stroke="#000" stroke-width="0.5"/>
</g>
</svg></body></html>
